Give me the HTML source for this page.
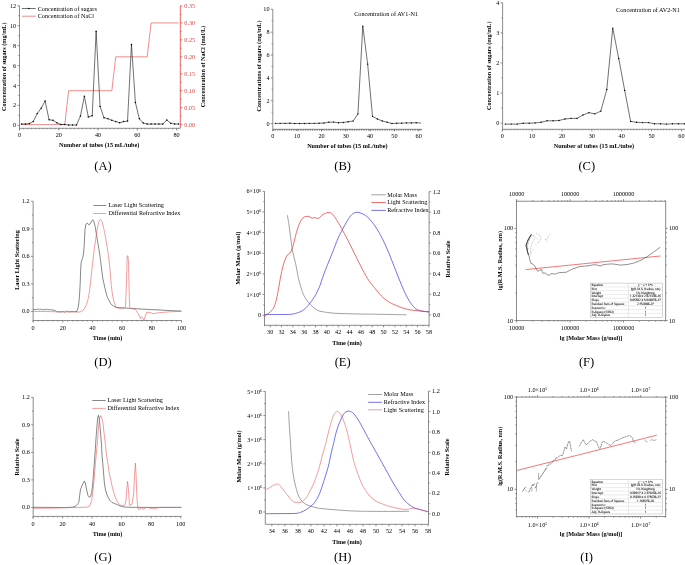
<!DOCTYPE html>
<html><head><meta charset="utf-8"><style>
html,body{margin:0;padding:0;background:#fff;}
svg{display:block;font-family:"Liberation Serif", serif;filter:blur(0.25px);}
</style></head><body>
<svg width="685" height="565" viewBox="0 0 685 565">
<rect width="685" height="565" fill="#fff"/>
<line x1="19.5" y1="5.7" x2="19.5" y2="128.3" stroke="#777777" stroke-width="0.85"/>
<line x1="19.5" y1="125.3" x2="17.5" y2="125.3" stroke="#777777" stroke-width="0.85"/>
<text x="16.2" y="127.35" text-anchor="end" font-size="6.2" fill="#000" >0</text>
<line x1="19.5" y1="105.38" x2="17.5" y2="105.38" stroke="#777777" stroke-width="0.85"/>
<text x="16.2" y="107.43" text-anchor="end" font-size="6.2" fill="#000" >2</text>
<line x1="19.5" y1="85.46" x2="17.5" y2="85.46" stroke="#777777" stroke-width="0.85"/>
<text x="16.2" y="87.51" text-anchor="end" font-size="6.2" fill="#000" >4</text>
<line x1="19.5" y1="65.54" x2="17.5" y2="65.54" stroke="#777777" stroke-width="0.85"/>
<text x="16.2" y="67.59" text-anchor="end" font-size="6.2" fill="#000" >6</text>
<line x1="19.5" y1="45.62" x2="17.5" y2="45.62" stroke="#777777" stroke-width="0.85"/>
<text x="16.2" y="47.67" text-anchor="end" font-size="6.2" fill="#000" >8</text>
<line x1="19.5" y1="25.7" x2="17.5" y2="25.7" stroke="#777777" stroke-width="0.85"/>
<text x="16.2" y="27.75" text-anchor="end" font-size="6.2" fill="#000" >10</text>
<line x1="19.5" y1="5.78" x2="17.5" y2="5.78" stroke="#777777" stroke-width="0.85"/>
<text x="16.2" y="7.83" text-anchor="end" font-size="6.2" fill="#000" >12</text>
<line x1="19.5" y1="115.34" x2="18.3" y2="115.34" stroke="#777777" stroke-width="0.85"/>
<line x1="19.5" y1="95.42" x2="18.3" y2="95.42" stroke="#777777" stroke-width="0.85"/>
<line x1="19.5" y1="75.5" x2="18.3" y2="75.5" stroke="#777777" stroke-width="0.85"/>
<line x1="19.5" y1="55.58" x2="18.3" y2="55.58" stroke="#777777" stroke-width="0.85"/>
<line x1="19.5" y1="35.66" x2="18.3" y2="35.66" stroke="#777777" stroke-width="0.85"/>
<line x1="19.5" y1="15.74" x2="18.3" y2="15.74" stroke="#777777" stroke-width="0.85"/>
<line x1="19.5" y1="128.3" x2="19.5" y2="130.3" stroke="#777777" stroke-width="0.85"/>
<line x1="180.3" y1="5.7" x2="180.3" y2="128.3" stroke="#e04848" stroke-width="0.85"/>
<line x1="180.3" y1="124.6" x2="182.3" y2="124.6" stroke="#e04848" stroke-width="0.85"/>
<text x="184.3" y="126.65" text-anchor="start" font-size="6.2" fill="#e04848" >0.00</text>
<line x1="180.3" y1="107.66" x2="182.3" y2="107.66" stroke="#e04848" stroke-width="0.85"/>
<text x="184.3" y="109.7" text-anchor="start" font-size="6.2" fill="#e04848" >0.05</text>
<line x1="180.3" y1="90.71" x2="182.3" y2="90.71" stroke="#e04848" stroke-width="0.85"/>
<text x="184.3" y="92.76" text-anchor="start" font-size="6.2" fill="#e04848" >0.10</text>
<line x1="180.3" y1="73.77" x2="182.3" y2="73.77" stroke="#e04848" stroke-width="0.85"/>
<text x="184.3" y="75.81" text-anchor="start" font-size="6.2" fill="#e04848" >0.15</text>
<line x1="180.3" y1="56.82" x2="182.3" y2="56.82" stroke="#e04848" stroke-width="0.85"/>
<text x="184.3" y="58.87" text-anchor="start" font-size="6.2" fill="#e04848" >0.20</text>
<line x1="180.3" y1="39.88" x2="182.3" y2="39.88" stroke="#e04848" stroke-width="0.85"/>
<text x="184.3" y="41.92" text-anchor="start" font-size="6.2" fill="#e04848" >0.25</text>
<line x1="180.3" y1="22.93" x2="182.3" y2="22.93" stroke="#e04848" stroke-width="0.85"/>
<text x="184.3" y="24.98" text-anchor="start" font-size="6.2" fill="#e04848" >0.30</text>
<line x1="180.3" y1="5.99" x2="182.3" y2="5.99" stroke="#e04848" stroke-width="0.85"/>
<text x="184.3" y="8.03" text-anchor="start" font-size="6.2" fill="#e04848" >0.35</text>
<line x1="180.3" y1="116.13" x2="181.5" y2="116.13" stroke="#e04848" stroke-width="0.85"/>
<line x1="180.3" y1="99.18" x2="181.5" y2="99.18" stroke="#e04848" stroke-width="0.85"/>
<line x1="180.3" y1="82.24" x2="181.5" y2="82.24" stroke="#e04848" stroke-width="0.85"/>
<line x1="180.3" y1="65.29" x2="181.5" y2="65.29" stroke="#e04848" stroke-width="0.85"/>
<line x1="180.3" y1="48.35" x2="181.5" y2="48.35" stroke="#e04848" stroke-width="0.85"/>
<line x1="180.3" y1="31.4" x2="181.5" y2="31.4" stroke="#e04848" stroke-width="0.85"/>
<line x1="180.3" y1="14.46" x2="181.5" y2="14.46" stroke="#e04848" stroke-width="0.85"/>
<line x1="19.5" y1="128.3" x2="180.3" y2="128.3" stroke="#777777" stroke-width="0.85"/>
<line x1="19.6" y1="128.3" x2="19.6" y2="130.3" stroke="#777777" stroke-width="0.85"/>
<text x="19.6" y="137.35" text-anchor="middle" font-size="6.2" fill="#000" >0</text>
<line x1="58.85" y1="128.3" x2="58.85" y2="130.3" stroke="#777777" stroke-width="0.85"/>
<text x="58.85" y="137.35" text-anchor="middle" font-size="6.2" fill="#000" >20</text>
<line x1="98.1" y1="128.3" x2="98.1" y2="130.3" stroke="#777777" stroke-width="0.85"/>
<text x="98.1" y="137.35" text-anchor="middle" font-size="6.2" fill="#000" >40</text>
<line x1="137.35" y1="128.3" x2="137.35" y2="130.3" stroke="#777777" stroke-width="0.85"/>
<text x="137.35" y="137.35" text-anchor="middle" font-size="6.2" fill="#000" >60</text>
<line x1="176.6" y1="128.3" x2="176.6" y2="130.3" stroke="#777777" stroke-width="0.85"/>
<text x="176.6" y="137.35" text-anchor="middle" font-size="6.2" fill="#000" >80</text>
<line x1="23.53" y1="128.3" x2="23.53" y2="129.3" stroke="#777777" stroke-width="0.85"/>
<line x1="27.45" y1="128.3" x2="27.45" y2="129.3" stroke="#777777" stroke-width="0.85"/>
<line x1="31.38" y1="128.3" x2="31.38" y2="129.3" stroke="#777777" stroke-width="0.85"/>
<line x1="35.3" y1="128.3" x2="35.3" y2="129.3" stroke="#777777" stroke-width="0.85"/>
<line x1="39.23" y1="128.3" x2="39.23" y2="129.3" stroke="#777777" stroke-width="0.85"/>
<line x1="43.15" y1="128.3" x2="43.15" y2="129.3" stroke="#777777" stroke-width="0.85"/>
<line x1="47.08" y1="128.3" x2="47.08" y2="129.3" stroke="#777777" stroke-width="0.85"/>
<line x1="51" y1="128.3" x2="51" y2="129.3" stroke="#777777" stroke-width="0.85"/>
<line x1="54.92" y1="128.3" x2="54.92" y2="129.3" stroke="#777777" stroke-width="0.85"/>
<line x1="58.85" y1="128.3" x2="58.85" y2="129.3" stroke="#777777" stroke-width="0.85"/>
<line x1="62.77" y1="128.3" x2="62.77" y2="129.3" stroke="#777777" stroke-width="0.85"/>
<line x1="66.7" y1="128.3" x2="66.7" y2="129.3" stroke="#777777" stroke-width="0.85"/>
<line x1="70.62" y1="128.3" x2="70.62" y2="129.3" stroke="#777777" stroke-width="0.85"/>
<line x1="74.55" y1="128.3" x2="74.55" y2="129.3" stroke="#777777" stroke-width="0.85"/>
<line x1="78.47" y1="128.3" x2="78.47" y2="129.3" stroke="#777777" stroke-width="0.85"/>
<line x1="82.4" y1="128.3" x2="82.4" y2="129.3" stroke="#777777" stroke-width="0.85"/>
<line x1="86.32" y1="128.3" x2="86.32" y2="129.3" stroke="#777777" stroke-width="0.85"/>
<line x1="90.25" y1="128.3" x2="90.25" y2="129.3" stroke="#777777" stroke-width="0.85"/>
<line x1="94.18" y1="128.3" x2="94.18" y2="129.3" stroke="#777777" stroke-width="0.85"/>
<line x1="98.1" y1="128.3" x2="98.1" y2="129.3" stroke="#777777" stroke-width="0.85"/>
<line x1="102.03" y1="128.3" x2="102.03" y2="129.3" stroke="#777777" stroke-width="0.85"/>
<line x1="105.95" y1="128.3" x2="105.95" y2="129.3" stroke="#777777" stroke-width="0.85"/>
<line x1="109.88" y1="128.3" x2="109.88" y2="129.3" stroke="#777777" stroke-width="0.85"/>
<line x1="113.8" y1="128.3" x2="113.8" y2="129.3" stroke="#777777" stroke-width="0.85"/>
<line x1="117.72" y1="128.3" x2="117.72" y2="129.3" stroke="#777777" stroke-width="0.85"/>
<line x1="121.65" y1="128.3" x2="121.65" y2="129.3" stroke="#777777" stroke-width="0.85"/>
<line x1="125.57" y1="128.3" x2="125.57" y2="129.3" stroke="#777777" stroke-width="0.85"/>
<line x1="129.5" y1="128.3" x2="129.5" y2="129.3" stroke="#777777" stroke-width="0.85"/>
<line x1="133.42" y1="128.3" x2="133.42" y2="129.3" stroke="#777777" stroke-width="0.85"/>
<line x1="137.35" y1="128.3" x2="137.35" y2="129.3" stroke="#777777" stroke-width="0.85"/>
<line x1="141.28" y1="128.3" x2="141.28" y2="129.3" stroke="#777777" stroke-width="0.85"/>
<line x1="145.2" y1="128.3" x2="145.2" y2="129.3" stroke="#777777" stroke-width="0.85"/>
<line x1="149.12" y1="128.3" x2="149.12" y2="129.3" stroke="#777777" stroke-width="0.85"/>
<line x1="153.05" y1="128.3" x2="153.05" y2="129.3" stroke="#777777" stroke-width="0.85"/>
<line x1="156.97" y1="128.3" x2="156.97" y2="129.3" stroke="#777777" stroke-width="0.85"/>
<line x1="160.9" y1="128.3" x2="160.9" y2="129.3" stroke="#777777" stroke-width="0.85"/>
<line x1="164.82" y1="128.3" x2="164.82" y2="129.3" stroke="#777777" stroke-width="0.85"/>
<line x1="168.75" y1="128.3" x2="168.75" y2="129.3" stroke="#777777" stroke-width="0.85"/>
<line x1="172.67" y1="128.3" x2="172.67" y2="129.3" stroke="#777777" stroke-width="0.85"/>
<line x1="176.6" y1="128.3" x2="176.6" y2="129.3" stroke="#777777" stroke-width="0.85"/>
<polyline points="21.56,124.6 64.74,124.6 68.66,90.71 111.84,90.71 115.76,56.82 147.16,56.82 151.09,22.93 178.56,22.93" fill="none" stroke="#ea5a5a" stroke-width="0.7" stroke-linejoin="round" />
<polyline points="21.56,124.01 25.49,124.01 29.41,123.61 33.34,121.42 37.26,113.55 41.19,108.17 45.11,100.9 49.04,119.72 52.96,120.32 56.89,122.81 60.81,124.5 64.74,124.5 68.66,125 72.59,125 76.51,125 80.44,116.04 84.36,96.22 88.29,116.93 92.21,115.74 96.14,31.18 100.06,106.48 103.99,117.73 107.91,118.63 111.84,120.32 115.76,121.61 119.69,122.81 123.61,121.61 127.54,121.12 131.46,44.42 135.39,102.39 139.31,118.63 143.24,123.11 147.16,124.01 151.09,124.1 155.01,124.01 158.94,124.01 162.86,124.1 166.79,119.92 170.71,123.31 174.64,124.01 178.56,124.01" fill="none" stroke="#111" stroke-width="0.6" stroke-linejoin="round" />
<circle cx="21.56" cy="124.01" r="0.75" fill="#000"/>
<circle cx="25.49" cy="124.01" r="0.75" fill="#000"/>
<circle cx="29.41" cy="123.61" r="0.75" fill="#000"/>
<circle cx="33.34" cy="121.42" r="0.75" fill="#000"/>
<circle cx="37.26" cy="113.55" r="0.75" fill="#000"/>
<circle cx="41.19" cy="108.17" r="0.75" fill="#000"/>
<circle cx="45.11" cy="100.9" r="0.75" fill="#000"/>
<circle cx="49.04" cy="119.72" r="0.75" fill="#000"/>
<circle cx="52.96" cy="120.32" r="0.75" fill="#000"/>
<circle cx="56.89" cy="122.81" r="0.75" fill="#000"/>
<circle cx="60.81" cy="124.5" r="0.75" fill="#000"/>
<circle cx="64.74" cy="124.5" r="0.75" fill="#000"/>
<circle cx="68.66" cy="125" r="0.75" fill="#000"/>
<circle cx="72.59" cy="125" r="0.75" fill="#000"/>
<circle cx="76.51" cy="125" r="0.75" fill="#000"/>
<circle cx="80.44" cy="116.04" r="0.75" fill="#000"/>
<circle cx="84.36" cy="96.22" r="0.75" fill="#000"/>
<circle cx="88.29" cy="116.93" r="0.75" fill="#000"/>
<circle cx="92.21" cy="115.74" r="0.75" fill="#000"/>
<circle cx="96.14" cy="31.18" r="0.75" fill="#000"/>
<circle cx="100.06" cy="106.48" r="0.75" fill="#000"/>
<circle cx="103.99" cy="117.73" r="0.75" fill="#000"/>
<circle cx="107.91" cy="118.63" r="0.75" fill="#000"/>
<circle cx="111.84" cy="120.32" r="0.75" fill="#000"/>
<circle cx="115.76" cy="121.61" r="0.75" fill="#000"/>
<circle cx="119.69" cy="122.81" r="0.75" fill="#000"/>
<circle cx="123.61" cy="121.61" r="0.75" fill="#000"/>
<circle cx="127.54" cy="121.12" r="0.75" fill="#000"/>
<circle cx="131.46" cy="44.42" r="0.75" fill="#000"/>
<circle cx="135.39" cy="102.39" r="0.75" fill="#000"/>
<circle cx="139.31" cy="118.63" r="0.75" fill="#000"/>
<circle cx="143.24" cy="123.11" r="0.75" fill="#000"/>
<circle cx="147.16" cy="124.01" r="0.75" fill="#000"/>
<circle cx="151.09" cy="124.1" r="0.75" fill="#000"/>
<circle cx="155.01" cy="124.01" r="0.75" fill="#000"/>
<circle cx="158.94" cy="124.01" r="0.75" fill="#000"/>
<circle cx="162.86" cy="124.1" r="0.75" fill="#000"/>
<circle cx="166.79" cy="119.92" r="0.75" fill="#000"/>
<circle cx="170.71" cy="123.31" r="0.75" fill="#000"/>
<circle cx="174.64" cy="124.01" r="0.75" fill="#000"/>
<circle cx="178.56" cy="124.01" r="0.75" fill="#000"/>
<line x1="21.9" y1="8.5" x2="35.7" y2="8.5" stroke="#111" stroke-width="0.6"/>
<circle cx="28.9" cy="8.5" r="0.75" fill="#000"/>
<line x1="21.9" y1="16.2" x2="35.7" y2="16.2" stroke="#ea5a5a" stroke-width="0.7"/>
<text x="37.7" y="10.66" text-anchor="start" font-size="6.2" fill="#000" >Concentration of sugars</text>
<text x="37.7" y="18.36" text-anchor="start" font-size="6.2" fill="#000" >Concentration of NaCl</text>
<text x="99.2" y="147.36" text-anchor="middle" font-size="6.2" font-weight="bold" fill="#000" >Number of tubes (15 mL/tube)</text>
<text transform="translate(5.55,66.7) rotate(-90)" text-anchor="middle" font-size="6.2" font-weight="bold" fill="#000" >Concentration of sugars (mg/mL)</text>
<text transform="translate(205.25,66.5) rotate(-90)" text-anchor="middle" font-size="6.2" font-weight="bold" fill="#000" >Concentration of NaCl (mol/L)</text>
<text x="103" y="169.86" text-anchor="middle" font-size="12.6" fill="#000" >(A)</text>
<line x1="272.8" y1="9.2" x2="272.8" y2="129.3" stroke="#777777" stroke-width="0.85"/>
<line x1="272.8" y1="123.6" x2="270.8" y2="123.6" stroke="#777777" stroke-width="0.85"/>
<text x="269.5" y="125.65" text-anchor="end" font-size="6.2" fill="#000" >0</text>
<line x1="272.8" y1="100.74" x2="270.8" y2="100.74" stroke="#777777" stroke-width="0.85"/>
<text x="269.5" y="102.79" text-anchor="end" font-size="6.2" fill="#000" >2</text>
<line x1="272.8" y1="77.88" x2="270.8" y2="77.88" stroke="#777777" stroke-width="0.85"/>
<text x="269.5" y="79.93" text-anchor="end" font-size="6.2" fill="#000" >4</text>
<line x1="272.8" y1="55.02" x2="270.8" y2="55.02" stroke="#777777" stroke-width="0.85"/>
<text x="269.5" y="57.07" text-anchor="end" font-size="6.2" fill="#000" >6</text>
<line x1="272.8" y1="32.16" x2="270.8" y2="32.16" stroke="#777777" stroke-width="0.85"/>
<text x="269.5" y="34.21" text-anchor="end" font-size="6.2" fill="#000" >8</text>
<line x1="272.8" y1="9.3" x2="270.8" y2="9.3" stroke="#777777" stroke-width="0.85"/>
<text x="269.5" y="11.35" text-anchor="end" font-size="6.2" fill="#000" >10</text>
<line x1="272.8" y1="112.17" x2="271.6" y2="112.17" stroke="#777777" stroke-width="0.85"/>
<line x1="272.8" y1="89.31" x2="271.6" y2="89.31" stroke="#777777" stroke-width="0.85"/>
<line x1="272.8" y1="66.45" x2="271.6" y2="66.45" stroke="#777777" stroke-width="0.85"/>
<line x1="272.8" y1="43.59" x2="271.6" y2="43.59" stroke="#777777" stroke-width="0.85"/>
<line x1="272.8" y1="20.73" x2="271.6" y2="20.73" stroke="#777777" stroke-width="0.85"/>
<line x1="272.8" y1="129.3" x2="272.8" y2="131" stroke="#777777" stroke-width="0.85"/>
<line x1="272.8" y1="129.3" x2="422.1" y2="129.3" stroke="#777777" stroke-width="0.85"/>
<line x1="272.9" y1="129.3" x2="272.9" y2="131.3" stroke="#777777" stroke-width="0.85"/>
<text x="272.9" y="137.85" text-anchor="middle" font-size="6.2" fill="#000" >0</text>
<line x1="297.2" y1="129.3" x2="297.2" y2="131.3" stroke="#777777" stroke-width="0.85"/>
<text x="297.2" y="137.85" text-anchor="middle" font-size="6.2" fill="#000" >10</text>
<line x1="321.5" y1="129.3" x2="321.5" y2="131.3" stroke="#777777" stroke-width="0.85"/>
<text x="321.5" y="137.85" text-anchor="middle" font-size="6.2" fill="#000" >20</text>
<line x1="345.8" y1="129.3" x2="345.8" y2="131.3" stroke="#777777" stroke-width="0.85"/>
<text x="345.8" y="137.85" text-anchor="middle" font-size="6.2" fill="#000" >30</text>
<line x1="370.1" y1="129.3" x2="370.1" y2="131.3" stroke="#777777" stroke-width="0.85"/>
<text x="370.1" y="137.85" text-anchor="middle" font-size="6.2" fill="#000" >40</text>
<line x1="394.4" y1="129.3" x2="394.4" y2="131.3" stroke="#777777" stroke-width="0.85"/>
<text x="394.4" y="137.85" text-anchor="middle" font-size="6.2" fill="#000" >50</text>
<line x1="418.7" y1="129.3" x2="418.7" y2="131.3" stroke="#777777" stroke-width="0.85"/>
<text x="418.7" y="137.85" text-anchor="middle" font-size="6.2" fill="#000" >60</text>
<line x1="273.6" y1="130.0" x2="422" y2="130.0" stroke="#222" stroke-width="0.9" stroke-dasharray="0.75 1.0"/>
<polyline points="275.33,123.37 280.19,123.37 285.05,123.37 289.91,123.26 294.77,123.49 299.63,123.49 304.49,123.49 309.35,123.37 314.21,123.37 319.07,123.26 323.93,123.03 328.79,122.23 333.65,122.11 338.51,122.69 343.37,122.46 348.23,121.77 353.09,121.09 357.95,113.88 362.81,26.1 367.67,64.16 372.53,116.4 377.39,119.03 382.25,120.97 387.11,122.23 391.97,123.49 396.83,123.26 401.69,123.14 406.55,122.91 411.41,122.91 416.27,122.69 421.13,123.14" fill="none" stroke="#111" stroke-width="0.6" stroke-linejoin="round" />
<circle cx="275.33" cy="123.37" r="0.7" fill="#000"/>
<circle cx="280.19" cy="123.37" r="0.7" fill="#000"/>
<circle cx="285.05" cy="123.37" r="0.7" fill="#000"/>
<circle cx="289.91" cy="123.26" r="0.7" fill="#000"/>
<circle cx="294.77" cy="123.49" r="0.7" fill="#000"/>
<circle cx="299.63" cy="123.49" r="0.7" fill="#000"/>
<circle cx="304.49" cy="123.49" r="0.7" fill="#000"/>
<circle cx="309.35" cy="123.37" r="0.7" fill="#000"/>
<circle cx="314.21" cy="123.37" r="0.7" fill="#000"/>
<circle cx="319.07" cy="123.26" r="0.7" fill="#000"/>
<circle cx="323.93" cy="123.03" r="0.7" fill="#000"/>
<circle cx="328.79" cy="122.23" r="0.7" fill="#000"/>
<circle cx="333.65" cy="122.11" r="0.7" fill="#000"/>
<circle cx="338.51" cy="122.69" r="0.7" fill="#000"/>
<circle cx="343.37" cy="122.46" r="0.7" fill="#000"/>
<circle cx="348.23" cy="121.77" r="0.7" fill="#000"/>
<circle cx="353.09" cy="121.09" r="0.7" fill="#000"/>
<circle cx="357.95" cy="113.88" r="0.7" fill="#000"/>
<circle cx="362.81" cy="26.1" r="0.7" fill="#000"/>
<circle cx="367.67" cy="64.16" r="0.7" fill="#000"/>
<circle cx="372.53" cy="116.4" r="0.7" fill="#000"/>
<circle cx="377.39" cy="119.03" r="0.7" fill="#000"/>
<circle cx="382.25" cy="120.97" r="0.7" fill="#000"/>
<circle cx="387.11" cy="122.23" r="0.7" fill="#000"/>
<circle cx="391.97" cy="123.49" r="0.7" fill="#000"/>
<circle cx="396.83" cy="123.26" r="0.7" fill="#000"/>
<circle cx="401.69" cy="123.14" r="0.7" fill="#000"/>
<circle cx="406.55" cy="122.91" r="0.7" fill="#000"/>
<circle cx="411.41" cy="122.91" r="0.7" fill="#000"/>
<circle cx="416.27" cy="122.69" r="0.7" fill="#000"/>
<text x="386.1" y="15.66" text-anchor="middle" font-size="6.2" fill="#000" >Concentration of AV1-N1</text>
<text x="347.3" y="148.16" text-anchor="middle" font-size="6.2" font-weight="bold" fill="#000" >Number of tubes (15 mL/tube)</text>
<text transform="translate(260.55,66) rotate(-90)" text-anchor="middle" font-size="6.2" font-weight="bold" fill="#000" >Concentrations of sugars (mg/mL)</text>
<text x="342.6" y="169.86" text-anchor="middle" font-size="12.6" fill="#000" >(B)</text>
<line x1="502.6" y1="2.6" x2="502.6" y2="129.3" stroke="#777777" stroke-width="0.85"/>
<line x1="502.6" y1="123.2" x2="500.6" y2="123.2" stroke="#777777" stroke-width="0.85"/>
<text x="499.3" y="125.25" text-anchor="end" font-size="6.2" fill="#000" >0</text>
<line x1="502.6" y1="93.1" x2="500.6" y2="93.1" stroke="#777777" stroke-width="0.85"/>
<text x="499.3" y="95.15" text-anchor="end" font-size="6.2" fill="#000" >1</text>
<line x1="502.6" y1="63" x2="500.6" y2="63" stroke="#777777" stroke-width="0.85"/>
<text x="499.3" y="65.05" text-anchor="end" font-size="6.2" fill="#000" >2</text>
<line x1="502.6" y1="32.9" x2="500.6" y2="32.9" stroke="#777777" stroke-width="0.85"/>
<text x="499.3" y="34.95" text-anchor="end" font-size="6.2" fill="#000" >3</text>
<line x1="502.6" y1="2.8" x2="500.6" y2="2.8" stroke="#777777" stroke-width="0.85"/>
<text x="499.3" y="4.85" text-anchor="end" font-size="6.2" fill="#000" >4</text>
<line x1="502.6" y1="108.15" x2="501.4" y2="108.15" stroke="#777777" stroke-width="0.85"/>
<line x1="502.6" y1="78.05" x2="501.4" y2="78.05" stroke="#777777" stroke-width="0.85"/>
<line x1="502.6" y1="47.95" x2="501.4" y2="47.95" stroke="#777777" stroke-width="0.85"/>
<line x1="502.6" y1="17.85" x2="501.4" y2="17.85" stroke="#777777" stroke-width="0.85"/>
<line x1="502.6" y1="129.3" x2="502.6" y2="131" stroke="#777777" stroke-width="0.85"/>
<line x1="502.6" y1="129.3" x2="685" y2="129.3" stroke="#777777" stroke-width="0.85"/>
<line x1="502.3" y1="129.3" x2="502.3" y2="131.3" stroke="#777777" stroke-width="0.85"/>
<text x="502.3" y="137.65" text-anchor="middle" font-size="6.2" fill="#000" >0</text>
<line x1="532.15" y1="129.3" x2="532.15" y2="131.3" stroke="#777777" stroke-width="0.85"/>
<text x="532.15" y="137.65" text-anchor="middle" font-size="6.2" fill="#000" >10</text>
<line x1="562" y1="129.3" x2="562" y2="131.3" stroke="#777777" stroke-width="0.85"/>
<text x="562" y="137.65" text-anchor="middle" font-size="6.2" fill="#000" >20</text>
<line x1="591.85" y1="129.3" x2="591.85" y2="131.3" stroke="#777777" stroke-width="0.85"/>
<text x="591.85" y="137.65" text-anchor="middle" font-size="6.2" fill="#000" >30</text>
<line x1="621.7" y1="129.3" x2="621.7" y2="131.3" stroke="#777777" stroke-width="0.85"/>
<text x="621.7" y="137.65" text-anchor="middle" font-size="6.2" fill="#000" >40</text>
<line x1="651.55" y1="129.3" x2="651.55" y2="131.3" stroke="#777777" stroke-width="0.85"/>
<text x="651.55" y="137.65" text-anchor="middle" font-size="6.2" fill="#000" >50</text>
<line x1="681.4" y1="129.3" x2="681.4" y2="131.3" stroke="#777777" stroke-width="0.85"/>
<text x="681.4" y="137.65" text-anchor="middle" font-size="6.2" fill="#000" >60</text>
<line x1="505.29" y1="129.3" x2="505.29" y2="130.3" stroke="#777777" stroke-width="0.85"/>
<line x1="508.27" y1="129.3" x2="508.27" y2="130.3" stroke="#777777" stroke-width="0.85"/>
<line x1="511.25" y1="129.3" x2="511.25" y2="130.3" stroke="#777777" stroke-width="0.85"/>
<line x1="514.24" y1="129.3" x2="514.24" y2="130.3" stroke="#777777" stroke-width="0.85"/>
<line x1="517.23" y1="129.3" x2="517.23" y2="130.3" stroke="#777777" stroke-width="0.85"/>
<line x1="520.21" y1="129.3" x2="520.21" y2="130.3" stroke="#777777" stroke-width="0.85"/>
<line x1="523.2" y1="129.3" x2="523.2" y2="130.3" stroke="#777777" stroke-width="0.85"/>
<line x1="526.18" y1="129.3" x2="526.18" y2="130.3" stroke="#777777" stroke-width="0.85"/>
<line x1="529.16" y1="129.3" x2="529.16" y2="130.3" stroke="#777777" stroke-width="0.85"/>
<line x1="535.13" y1="129.3" x2="535.13" y2="130.3" stroke="#777777" stroke-width="0.85"/>
<line x1="538.12" y1="129.3" x2="538.12" y2="130.3" stroke="#777777" stroke-width="0.85"/>
<line x1="541.11" y1="129.3" x2="541.11" y2="130.3" stroke="#777777" stroke-width="0.85"/>
<line x1="544.09" y1="129.3" x2="544.09" y2="130.3" stroke="#777777" stroke-width="0.85"/>
<line x1="547.08" y1="129.3" x2="547.08" y2="130.3" stroke="#777777" stroke-width="0.85"/>
<line x1="550.06" y1="129.3" x2="550.06" y2="130.3" stroke="#777777" stroke-width="0.85"/>
<line x1="553.04" y1="129.3" x2="553.04" y2="130.3" stroke="#777777" stroke-width="0.85"/>
<line x1="556.03" y1="129.3" x2="556.03" y2="130.3" stroke="#777777" stroke-width="0.85"/>
<line x1="559.01" y1="129.3" x2="559.01" y2="130.3" stroke="#777777" stroke-width="0.85"/>
<line x1="564.99" y1="129.3" x2="564.99" y2="130.3" stroke="#777777" stroke-width="0.85"/>
<line x1="567.97" y1="129.3" x2="567.97" y2="130.3" stroke="#777777" stroke-width="0.85"/>
<line x1="570.96" y1="129.3" x2="570.96" y2="130.3" stroke="#777777" stroke-width="0.85"/>
<line x1="573.94" y1="129.3" x2="573.94" y2="130.3" stroke="#777777" stroke-width="0.85"/>
<line x1="576.92" y1="129.3" x2="576.92" y2="130.3" stroke="#777777" stroke-width="0.85"/>
<line x1="579.91" y1="129.3" x2="579.91" y2="130.3" stroke="#777777" stroke-width="0.85"/>
<line x1="582.89" y1="129.3" x2="582.89" y2="130.3" stroke="#777777" stroke-width="0.85"/>
<line x1="585.88" y1="129.3" x2="585.88" y2="130.3" stroke="#777777" stroke-width="0.85"/>
<line x1="588.87" y1="129.3" x2="588.87" y2="130.3" stroke="#777777" stroke-width="0.85"/>
<line x1="594.84" y1="129.3" x2="594.84" y2="130.3" stroke="#777777" stroke-width="0.85"/>
<line x1="597.82" y1="129.3" x2="597.82" y2="130.3" stroke="#777777" stroke-width="0.85"/>
<line x1="600.81" y1="129.3" x2="600.81" y2="130.3" stroke="#777777" stroke-width="0.85"/>
<line x1="603.79" y1="129.3" x2="603.79" y2="130.3" stroke="#777777" stroke-width="0.85"/>
<line x1="606.77" y1="129.3" x2="606.77" y2="130.3" stroke="#777777" stroke-width="0.85"/>
<line x1="609.76" y1="129.3" x2="609.76" y2="130.3" stroke="#777777" stroke-width="0.85"/>
<line x1="612.75" y1="129.3" x2="612.75" y2="130.3" stroke="#777777" stroke-width="0.85"/>
<line x1="615.73" y1="129.3" x2="615.73" y2="130.3" stroke="#777777" stroke-width="0.85"/>
<line x1="618.72" y1="129.3" x2="618.72" y2="130.3" stroke="#777777" stroke-width="0.85"/>
<line x1="624.68" y1="129.3" x2="624.68" y2="130.3" stroke="#777777" stroke-width="0.85"/>
<line x1="627.67" y1="129.3" x2="627.67" y2="130.3" stroke="#777777" stroke-width="0.85"/>
<line x1="630.65" y1="129.3" x2="630.65" y2="130.3" stroke="#777777" stroke-width="0.85"/>
<line x1="633.64" y1="129.3" x2="633.64" y2="130.3" stroke="#777777" stroke-width="0.85"/>
<line x1="636.62" y1="129.3" x2="636.62" y2="130.3" stroke="#777777" stroke-width="0.85"/>
<line x1="639.61" y1="129.3" x2="639.61" y2="130.3" stroke="#777777" stroke-width="0.85"/>
<line x1="642.6" y1="129.3" x2="642.6" y2="130.3" stroke="#777777" stroke-width="0.85"/>
<line x1="645.58" y1="129.3" x2="645.58" y2="130.3" stroke="#777777" stroke-width="0.85"/>
<line x1="648.57" y1="129.3" x2="648.57" y2="130.3" stroke="#777777" stroke-width="0.85"/>
<line x1="654.53" y1="129.3" x2="654.53" y2="130.3" stroke="#777777" stroke-width="0.85"/>
<line x1="657.52" y1="129.3" x2="657.52" y2="130.3" stroke="#777777" stroke-width="0.85"/>
<line x1="660.5" y1="129.3" x2="660.5" y2="130.3" stroke="#777777" stroke-width="0.85"/>
<line x1="663.49" y1="129.3" x2="663.49" y2="130.3" stroke="#777777" stroke-width="0.85"/>
<line x1="666.48" y1="129.3" x2="666.48" y2="130.3" stroke="#777777" stroke-width="0.85"/>
<line x1="669.46" y1="129.3" x2="669.46" y2="130.3" stroke="#777777" stroke-width="0.85"/>
<line x1="672.44" y1="129.3" x2="672.44" y2="130.3" stroke="#777777" stroke-width="0.85"/>
<line x1="675.43" y1="129.3" x2="675.43" y2="130.3" stroke="#777777" stroke-width="0.85"/>
<line x1="678.41" y1="129.3" x2="678.41" y2="130.3" stroke="#777777" stroke-width="0.85"/>
<polyline points="505.29,124.1 511.25,124.1 517.23,124.1 523.2,123.2 529.16,123.2 535.13,122.9 541.11,122.3 547.08,120.79 553.04,120.79 559.01,120.49 564.99,118.99 570.96,118.38 576.92,118.38 582.89,115.07 588.87,112.67 594.84,113.87 600.81,111.16 606.77,89.49 612.75,28.08 618.72,58.48 624.68,90.39 630.65,121.39 636.62,122.3 642.6,122.6 648.57,122.6 654.53,123.8 660.5,123.8 666.48,124.1 672.44,123.8 678.41,123.8 684.38,123.8" fill="none" stroke="#111" stroke-width="0.6" stroke-linejoin="round" />
<circle cx="505.29" cy="124.1" r="0.7" fill="#000"/>
<circle cx="511.25" cy="124.1" r="0.7" fill="#000"/>
<circle cx="517.23" cy="124.1" r="0.7" fill="#000"/>
<circle cx="523.2" cy="123.2" r="0.7" fill="#000"/>
<circle cx="529.16" cy="123.2" r="0.7" fill="#000"/>
<circle cx="535.13" cy="122.9" r="0.7" fill="#000"/>
<circle cx="541.11" cy="122.3" r="0.7" fill="#000"/>
<circle cx="547.08" cy="120.79" r="0.7" fill="#000"/>
<circle cx="553.04" cy="120.79" r="0.7" fill="#000"/>
<circle cx="559.01" cy="120.49" r="0.7" fill="#000"/>
<circle cx="564.99" cy="118.99" r="0.7" fill="#000"/>
<circle cx="570.96" cy="118.38" r="0.7" fill="#000"/>
<circle cx="576.92" cy="118.38" r="0.7" fill="#000"/>
<circle cx="582.89" cy="115.07" r="0.7" fill="#000"/>
<circle cx="588.87" cy="112.67" r="0.7" fill="#000"/>
<circle cx="594.84" cy="113.87" r="0.7" fill="#000"/>
<circle cx="600.81" cy="111.16" r="0.7" fill="#000"/>
<circle cx="606.77" cy="89.49" r="0.7" fill="#000"/>
<circle cx="612.75" cy="28.08" r="0.7" fill="#000"/>
<circle cx="618.72" cy="58.48" r="0.7" fill="#000"/>
<circle cx="624.68" cy="90.39" r="0.7" fill="#000"/>
<circle cx="630.65" cy="121.39" r="0.7" fill="#000"/>
<circle cx="636.62" cy="122.3" r="0.7" fill="#000"/>
<circle cx="642.6" cy="122.6" r="0.7" fill="#000"/>
<circle cx="648.57" cy="122.6" r="0.7" fill="#000"/>
<circle cx="654.53" cy="123.8" r="0.7" fill="#000"/>
<circle cx="660.5" cy="123.8" r="0.7" fill="#000"/>
<circle cx="666.48" cy="124.1" r="0.7" fill="#000"/>
<circle cx="672.44" cy="123.8" r="0.7" fill="#000"/>
<circle cx="678.41" cy="123.8" r="0.7" fill="#000"/>
<circle cx="684.38" cy="123.8" r="0.7" fill="#000"/>
<text x="648" y="11.66" text-anchor="middle" font-size="6.2" fill="#000" >Concentration of AV2-N1</text>
<text x="593.9" y="148.16" text-anchor="middle" font-size="6.2" font-weight="bold" fill="#000" >Number of tubes (15 mL/tube)</text>
<text transform="translate(491.25,65.7) rotate(-90)" text-anchor="middle" font-size="6.2" font-weight="bold" fill="#000" >Concentration of sugars (mg/mL)</text>
<text x="586.8" y="169.86" text-anchor="middle" font-size="12.6" fill="#000" >(C)</text>
<line x1="33.1" y1="201.2" x2="33.1" y2="320.5" stroke="#777777" stroke-width="0.85"/>
<line x1="33.1" y1="311.4" x2="31.1" y2="311.4" stroke="#777777" stroke-width="0.85"/>
<text x="29.7" y="313.45" text-anchor="end" font-size="6.2" fill="#000" >0.0</text>
<line x1="33.1" y1="283.86" x2="31.1" y2="283.86" stroke="#777777" stroke-width="0.85"/>
<text x="29.7" y="285.91" text-anchor="end" font-size="6.2" fill="#000" >0.3</text>
<line x1="33.1" y1="256.32" x2="31.1" y2="256.32" stroke="#777777" stroke-width="0.85"/>
<text x="29.7" y="258.37" text-anchor="end" font-size="6.2" fill="#000" >0.6</text>
<line x1="33.1" y1="228.78" x2="31.1" y2="228.78" stroke="#777777" stroke-width="0.85"/>
<text x="29.7" y="230.83" text-anchor="end" font-size="6.2" fill="#000" >0.9</text>
<line x1="33.1" y1="201.24" x2="31.1" y2="201.24" stroke="#777777" stroke-width="0.85"/>
<text x="29.7" y="203.29" text-anchor="end" font-size="6.2" fill="#000" >1.2</text>
<line x1="33.1" y1="297.63" x2="31.9" y2="297.63" stroke="#777777" stroke-width="0.85"/>
<line x1="33.1" y1="270.09" x2="31.9" y2="270.09" stroke="#777777" stroke-width="0.85"/>
<line x1="33.1" y1="242.55" x2="31.9" y2="242.55" stroke="#777777" stroke-width="0.85"/>
<line x1="33.1" y1="215.01" x2="31.9" y2="215.01" stroke="#777777" stroke-width="0.85"/>
<line x1="33.1" y1="320.5" x2="33.1" y2="322" stroke="#777777" stroke-width="0.85"/>
<line x1="33.1" y1="320.5" x2="181.5" y2="320.5" stroke="#777777" stroke-width="0.85"/>
<line x1="33.1" y1="320.5" x2="33.1" y2="322.5" stroke="#777777" stroke-width="0.85"/>
<text x="33.1" y="329.65" text-anchor="middle" font-size="6.2" fill="#000" >0</text>
<line x1="62.78" y1="320.5" x2="62.78" y2="322.5" stroke="#777777" stroke-width="0.85"/>
<text x="62.78" y="329.65" text-anchor="middle" font-size="6.2" fill="#000" >20</text>
<line x1="92.46" y1="320.5" x2="92.46" y2="322.5" stroke="#777777" stroke-width="0.85"/>
<text x="92.46" y="329.65" text-anchor="middle" font-size="6.2" fill="#000" >40</text>
<line x1="122.14" y1="320.5" x2="122.14" y2="322.5" stroke="#777777" stroke-width="0.85"/>
<text x="122.14" y="329.65" text-anchor="middle" font-size="6.2" fill="#000" >60</text>
<line x1="151.82" y1="320.5" x2="151.82" y2="322.5" stroke="#777777" stroke-width="0.85"/>
<text x="151.82" y="329.65" text-anchor="middle" font-size="6.2" fill="#000" >80</text>
<line x1="181.5" y1="320.5" x2="181.5" y2="322.5" stroke="#777777" stroke-width="0.85"/>
<text x="181.5" y="329.65" text-anchor="middle" font-size="6.2" fill="#000" >100</text>
<line x1="38.05" y1="320.5" x2="38.05" y2="321.5" stroke="#777777" stroke-width="0.85"/>
<line x1="42.99" y1="320.5" x2="42.99" y2="321.5" stroke="#777777" stroke-width="0.85"/>
<line x1="47.94" y1="320.5" x2="47.94" y2="321.5" stroke="#777777" stroke-width="0.85"/>
<line x1="52.89" y1="320.5" x2="52.89" y2="321.5" stroke="#777777" stroke-width="0.85"/>
<line x1="57.83" y1="320.5" x2="57.83" y2="321.5" stroke="#777777" stroke-width="0.85"/>
<line x1="67.73" y1="320.5" x2="67.73" y2="321.5" stroke="#777777" stroke-width="0.85"/>
<line x1="72.67" y1="320.5" x2="72.67" y2="321.5" stroke="#777777" stroke-width="0.85"/>
<line x1="77.62" y1="320.5" x2="77.62" y2="321.5" stroke="#777777" stroke-width="0.85"/>
<line x1="82.57" y1="320.5" x2="82.57" y2="321.5" stroke="#777777" stroke-width="0.85"/>
<line x1="87.51" y1="320.5" x2="87.51" y2="321.5" stroke="#777777" stroke-width="0.85"/>
<line x1="97.41" y1="320.5" x2="97.41" y2="321.5" stroke="#777777" stroke-width="0.85"/>
<line x1="102.35" y1="320.5" x2="102.35" y2="321.5" stroke="#777777" stroke-width="0.85"/>
<line x1="107.3" y1="320.5" x2="107.3" y2="321.5" stroke="#777777" stroke-width="0.85"/>
<line x1="112.25" y1="320.5" x2="112.25" y2="321.5" stroke="#777777" stroke-width="0.85"/>
<line x1="117.19" y1="320.5" x2="117.19" y2="321.5" stroke="#777777" stroke-width="0.85"/>
<line x1="127.09" y1="320.5" x2="127.09" y2="321.5" stroke="#777777" stroke-width="0.85"/>
<line x1="132.03" y1="320.5" x2="132.03" y2="321.5" stroke="#777777" stroke-width="0.85"/>
<line x1="136.98" y1="320.5" x2="136.98" y2="321.5" stroke="#777777" stroke-width="0.85"/>
<line x1="141.93" y1="320.5" x2="141.93" y2="321.5" stroke="#777777" stroke-width="0.85"/>
<line x1="146.87" y1="320.5" x2="146.87" y2="321.5" stroke="#777777" stroke-width="0.85"/>
<line x1="156.77" y1="320.5" x2="156.77" y2="321.5" stroke="#777777" stroke-width="0.85"/>
<line x1="161.71" y1="320.5" x2="161.71" y2="321.5" stroke="#777777" stroke-width="0.85"/>
<line x1="166.66" y1="320.5" x2="166.66" y2="321.5" stroke="#777777" stroke-width="0.85"/>
<line x1="171.61" y1="320.5" x2="171.61" y2="321.5" stroke="#777777" stroke-width="0.85"/>
<line x1="176.55" y1="320.5" x2="176.55" y2="321.5" stroke="#777777" stroke-width="0.85"/>
<polyline points="33.2,309.26 34.1,309.54 35,309.38 35.9,309.59 36.8,309.61 37.7,309.11 38.6,309.06 39.5,309.8 40.4,309.28 41.3,309.26 42.2,309.95 43.1,309.47 44,309.8 44.9,309.48 45.8,309.63 46.7,309.19 47.6,309.62 48.5,309.83 49.4,309.52 50.3,309.78 51.2,309.89 52.1,309.53 53,310.33 53.9,310.36 54.8,310.28 55.7,311.18 56.6,311.93 57.5,311.58 58.4,311.8 59.3,311.94 60.2,311.79 61.1,311.98 62,311.51 62.9,311.87 63.8,311.55 64.7,311.99 65.6,311.94 66.5,311.24 67.4,311.27 68.3,311.35 69.2,312.02 70.1,311.54 71,311.71 71.9,311.42 72.8,311.61 73.7,311.5 74.6,311.47 75.5,311.68 76.4,311.68 76.5,312 78,308 78.7,303.8 79.5,296 80.1,285.4 80.6,272 81.1,262.7 82,259.5 83,256.5 83.6,253 84.2,245.4 85,229.5 85.9,224.2 87.3,223.1 88.6,224.6 89.9,224.2 91.2,221.9 92.8,219.7 93.9,221.5 95.2,226.8 96.5,234.8 98.3,245.4 100,256 100.5,260.6 102.8,278.3 104.9,288 107.1,296.7 110,302.4 111.3,304.5 115.6,307.3 120,307.8 130,308.3 140,309 150,309.5 160,310 170,310.6 181.4,311.1" fill="none" stroke="#222" stroke-width="0.55" stroke-linejoin="round" />
<polyline points="33.2,311.4 50,311.6 70,312 80,312 82.3,310.8 84.5,308.6 86.5,304.5 88,299.5 89.3,292.5 90.5,283 91.5,273 92.5,264 93.4,256.5 94.3,248.9 95.7,239.2 97.4,227.7 99.2,220.6 100.5,219.3 101.9,221.1 103.6,227.7 105.4,236.5 107.2,247.2 108.5,256 109.7,266 111.3,285.4 112.5,295 114.2,302.4 116.3,307.5 118,308 120,308.2 122,308.2 124,307.6 125.5,306.6 126.5,282 127.2,256 127.9,255.7 128.5,262 129.1,290 129.7,307.3 131,308.5 133,308.6 135.5,309.5 138.2,313.7 139.5,316 140.3,318.6 141,317.5 141.8,316.8 143,318.5 143.9,320 145,317 146.7,312.3 150,312.4 152.5,313.7 155,313.4 160,312.6 170,311.8 181.4,311.3" fill="none" stroke="#ea5a5a" stroke-width="0.6" stroke-linejoin="round" />
<line x1="93.3" y1="205.5" x2="106.2" y2="205.5" stroke="#222" stroke-width="0.55"/>
<line x1="93.3" y1="213.5" x2="106.2" y2="213.5" stroke="#ea5a5a" stroke-width="0.6"/>
<text x="108.6" y="207.46" text-anchor="start" font-size="6.2" fill="#000" >Laser Light Scattering</text>
<text x="108.6" y="215.46" text-anchor="start" font-size="6.2" fill="#000" >Differential Refractive Index</text>
<text x="107.5" y="339.96" text-anchor="middle" font-size="6.2" font-weight="bold" fill="#000" >Time (min)</text>
<text transform="translate(19.25,260) rotate(-90)" text-anchor="middle" font-size="6.2" font-weight="bold" fill="#000" >Laser Light Scattering</text>
<text x="103" y="365.66" text-anchor="middle" font-size="12.6" fill="#000" >(D)</text>
<line x1="33.2" y1="397.4" x2="33.2" y2="516.4" stroke="#777777" stroke-width="0.85"/>
<line x1="33.2" y1="507.4" x2="31.2" y2="507.4" stroke="#777777" stroke-width="0.85"/>
<text x="29.8" y="509.45" text-anchor="end" font-size="6.2" fill="#000" >0.0</text>
<line x1="33.2" y1="479.89" x2="31.2" y2="479.89" stroke="#777777" stroke-width="0.85"/>
<text x="29.8" y="481.94" text-anchor="end" font-size="6.2" fill="#000" >0.3</text>
<line x1="33.2" y1="452.38" x2="31.2" y2="452.38" stroke="#777777" stroke-width="0.85"/>
<text x="29.8" y="454.43" text-anchor="end" font-size="6.2" fill="#000" >0.6</text>
<line x1="33.2" y1="424.87" x2="31.2" y2="424.87" stroke="#777777" stroke-width="0.85"/>
<text x="29.8" y="426.92" text-anchor="end" font-size="6.2" fill="#000" >0.9</text>
<line x1="33.2" y1="397.36" x2="31.2" y2="397.36" stroke="#777777" stroke-width="0.85"/>
<text x="29.8" y="399.41" text-anchor="end" font-size="6.2" fill="#000" >1.2</text>
<line x1="33.2" y1="493.64" x2="32" y2="493.64" stroke="#777777" stroke-width="0.85"/>
<line x1="33.2" y1="466.13" x2="32" y2="466.13" stroke="#777777" stroke-width="0.85"/>
<line x1="33.2" y1="438.62" x2="32" y2="438.62" stroke="#777777" stroke-width="0.85"/>
<line x1="33.2" y1="411.11" x2="32" y2="411.11" stroke="#777777" stroke-width="0.85"/>
<line x1="33.2" y1="516.4" x2="33.2" y2="518.4" stroke="#777777" stroke-width="0.85"/>
<line x1="33.2" y1="516.4" x2="181.6" y2="516.4" stroke="#777777" stroke-width="0.85"/>
<line x1="33.1" y1="516.4" x2="33.1" y2="518.4" stroke="#777777" stroke-width="0.85"/>
<text x="33.1" y="525.85" text-anchor="middle" font-size="6.2" fill="#000" >0</text>
<line x1="62.62" y1="516.4" x2="62.62" y2="518.4" stroke="#777777" stroke-width="0.85"/>
<text x="62.62" y="525.85" text-anchor="middle" font-size="6.2" fill="#000" >20</text>
<line x1="92.14" y1="516.4" x2="92.14" y2="518.4" stroke="#777777" stroke-width="0.85"/>
<text x="92.14" y="525.85" text-anchor="middle" font-size="6.2" fill="#000" >40</text>
<line x1="121.66" y1="516.4" x2="121.66" y2="518.4" stroke="#777777" stroke-width="0.85"/>
<text x="121.66" y="525.85" text-anchor="middle" font-size="6.2" fill="#000" >60</text>
<line x1="151.18" y1="516.4" x2="151.18" y2="518.4" stroke="#777777" stroke-width="0.85"/>
<text x="151.18" y="525.85" text-anchor="middle" font-size="6.2" fill="#000" >80</text>
<line x1="180.7" y1="516.4" x2="180.7" y2="518.4" stroke="#777777" stroke-width="0.85"/>
<text x="180.7" y="525.85" text-anchor="middle" font-size="6.2" fill="#000" >100</text>
<line x1="38.02" y1="516.4" x2="38.02" y2="517.4" stroke="#777777" stroke-width="0.85"/>
<line x1="42.94" y1="516.4" x2="42.94" y2="517.4" stroke="#777777" stroke-width="0.85"/>
<line x1="47.86" y1="516.4" x2="47.86" y2="517.4" stroke="#777777" stroke-width="0.85"/>
<line x1="52.78" y1="516.4" x2="52.78" y2="517.4" stroke="#777777" stroke-width="0.85"/>
<line x1="57.7" y1="516.4" x2="57.7" y2="517.4" stroke="#777777" stroke-width="0.85"/>
<line x1="67.54" y1="516.4" x2="67.54" y2="517.4" stroke="#777777" stroke-width="0.85"/>
<line x1="72.46" y1="516.4" x2="72.46" y2="517.4" stroke="#777777" stroke-width="0.85"/>
<line x1="77.38" y1="516.4" x2="77.38" y2="517.4" stroke="#777777" stroke-width="0.85"/>
<line x1="82.3" y1="516.4" x2="82.3" y2="517.4" stroke="#777777" stroke-width="0.85"/>
<line x1="87.22" y1="516.4" x2="87.22" y2="517.4" stroke="#777777" stroke-width="0.85"/>
<line x1="97.06" y1="516.4" x2="97.06" y2="517.4" stroke="#777777" stroke-width="0.85"/>
<line x1="101.98" y1="516.4" x2="101.98" y2="517.4" stroke="#777777" stroke-width="0.85"/>
<line x1="106.9" y1="516.4" x2="106.9" y2="517.4" stroke="#777777" stroke-width="0.85"/>
<line x1="111.82" y1="516.4" x2="111.82" y2="517.4" stroke="#777777" stroke-width="0.85"/>
<line x1="116.74" y1="516.4" x2="116.74" y2="517.4" stroke="#777777" stroke-width="0.85"/>
<line x1="126.58" y1="516.4" x2="126.58" y2="517.4" stroke="#777777" stroke-width="0.85"/>
<line x1="131.5" y1="516.4" x2="131.5" y2="517.4" stroke="#777777" stroke-width="0.85"/>
<line x1="136.42" y1="516.4" x2="136.42" y2="517.4" stroke="#777777" stroke-width="0.85"/>
<line x1="141.34" y1="516.4" x2="141.34" y2="517.4" stroke="#777777" stroke-width="0.85"/>
<line x1="146.26" y1="516.4" x2="146.26" y2="517.4" stroke="#777777" stroke-width="0.85"/>
<line x1="156.1" y1="516.4" x2="156.1" y2="517.4" stroke="#777777" stroke-width="0.85"/>
<line x1="161.02" y1="516.4" x2="161.02" y2="517.4" stroke="#777777" stroke-width="0.85"/>
<line x1="165.94" y1="516.4" x2="165.94" y2="517.4" stroke="#777777" stroke-width="0.85"/>
<line x1="170.86" y1="516.4" x2="170.86" y2="517.4" stroke="#777777" stroke-width="0.85"/>
<line x1="175.78" y1="516.4" x2="175.78" y2="517.4" stroke="#777777" stroke-width="0.85"/>
<polyline points="33.2,507.3 50,507.4 65,507.6 72.6,507.2 75,506.5 76.5,505.3 78,503.5 78.9,502.1 79.6,496 80.5,489.4 82.1,485.4 83.5,482.5 84.5,481.1 85.5,484 86.9,491 88,495.5 89.3,497.3 90.5,496.5 91.7,492.6 92.5,486 93.3,476.6 94.1,466 94.9,455 96.2,436 97.1,424.5 97.8,417.4 98.5,415.4 99.1,417.4 99.8,424.5 100.7,434.2 101.5,444.8 102,455 102.8,463.9 104.4,483 105.5,490 106.8,494.2 108.5,498 110,500.5 112,502.5 114.3,503.4 117,504.5 119.1,505.6 123.1,506.9 130,507.3 150,507.4 181.4,507.4" fill="none" stroke="#222" stroke-width="0.55" stroke-linejoin="round" />
<polyline points="33.2,508.3 50,508.2 70,507.6 86.9,507.2 89.3,506.1 90.5,504 91.7,500.5 93,490 94.1,479.8 95.2,466 96.2,455 97.6,440.4 98.5,427.1 99.8,417.4 100.7,415.6 101.5,417 102.9,422.7 104.2,434.2 105.5,444.8 106.4,455 108,463.9 109,472 111.1,481.4 112.5,488 114.3,494.2 116,499 117.5,502.1 119.5,504.5 121.5,505.6 124.7,505.3 126,500 127,487 127.6,481.4 128.3,488 129.5,505.3 131.9,504.5 133.5,495 134.6,475 135.4,463.1 136.1,475 136.8,495 137.4,503.7 138.2,509.3 140,509 141.5,508.3 143.8,509.3 145.5,507.5 147,507.4 150,508 152.6,508.8 155,508.4 160,507.4 181.4,507.4" fill="none" stroke="#ea5a5a" stroke-width="0.6" stroke-linejoin="round" />
<line x1="92.3" y1="400.5" x2="105.7" y2="400.5" stroke="#222" stroke-width="0.55"/>
<line x1="92.3" y1="408.4" x2="105.7" y2="408.4" stroke="#ea5a5a" stroke-width="0.6"/>
<text x="107.6" y="402.46" text-anchor="start" font-size="6.2" fill="#000" >Laser Light Scattering</text>
<text x="107.6" y="410.36" text-anchor="start" font-size="6.2" fill="#000" >Differential Refractive Index</text>
<text x="107.5" y="535.56" text-anchor="middle" font-size="6.2" font-weight="bold" fill="#000" >Time (min)</text>
<text transform="translate(18.85,457) rotate(-90)" text-anchor="middle" font-size="6.2" font-weight="bold" fill="#000" >Relative Scale</text>
<text x="103" y="560.66" text-anchor="middle" font-size="12.6" fill="#000" >(G)</text>
<line x1="264.5" y1="191.3" x2="264.5" y2="325.3" stroke="#777777" stroke-width="0.85"/>
<line x1="264.5" y1="315.2" x2="262.5" y2="315.2" stroke="#777777" stroke-width="0.85"/>
<text x="261.1" y="317.25" text-anchor="end" font-size="6.2" fill="#000" >0</text>
<line x1="264.5" y1="294.55" x2="262.5" y2="294.55" stroke="#777777" stroke-width="0.85"/>
<text x="261.1" y="296.6" text-anchor="end" font-size="6.2" fill="#000" >1&#215;10<tspan dy="-1.7" font-size="3.7">6</tspan></text>
<line x1="264.5" y1="273.9" x2="262.5" y2="273.9" stroke="#777777" stroke-width="0.85"/>
<text x="261.1" y="275.95" text-anchor="end" font-size="6.2" fill="#000" >2&#215;10<tspan dy="-1.7" font-size="3.7">6</tspan></text>
<line x1="264.5" y1="253.25" x2="262.5" y2="253.25" stroke="#777777" stroke-width="0.85"/>
<text x="261.1" y="255.3" text-anchor="end" font-size="6.2" fill="#000" >3&#215;10<tspan dy="-1.7" font-size="3.7">6</tspan></text>
<line x1="264.5" y1="232.6" x2="262.5" y2="232.6" stroke="#777777" stroke-width="0.85"/>
<text x="261.1" y="234.65" text-anchor="end" font-size="6.2" fill="#000" >4&#215;10<tspan dy="-1.7" font-size="3.7">6</tspan></text>
<line x1="264.5" y1="211.95" x2="262.5" y2="211.95" stroke="#777777" stroke-width="0.85"/>
<text x="261.1" y="214" text-anchor="end" font-size="6.2" fill="#000" >5&#215;10<tspan dy="-1.7" font-size="3.7">6</tspan></text>
<line x1="264.5" y1="191.3" x2="262.5" y2="191.3" stroke="#777777" stroke-width="0.85"/>
<text x="261.1" y="193.35" text-anchor="end" font-size="6.2" fill="#000" >6&#215;10<tspan dy="-1.7" font-size="3.7">6</tspan></text>
<line x1="264.5" y1="304.88" x2="263.3" y2="304.88" stroke="#777777" stroke-width="0.85"/>
<line x1="264.5" y1="284.22" x2="263.3" y2="284.22" stroke="#777777" stroke-width="0.85"/>
<line x1="264.5" y1="263.57" x2="263.3" y2="263.57" stroke="#777777" stroke-width="0.85"/>
<line x1="264.5" y1="242.93" x2="263.3" y2="242.93" stroke="#777777" stroke-width="0.85"/>
<line x1="264.5" y1="222.27" x2="263.3" y2="222.27" stroke="#777777" stroke-width="0.85"/>
<line x1="264.5" y1="201.62" x2="263.3" y2="201.62" stroke="#777777" stroke-width="0.85"/>
<line x1="429.1" y1="191.6" x2="429.1" y2="325.3" stroke="#777777" stroke-width="0.85"/>
<line x1="429.1" y1="314.8" x2="431.1" y2="314.8" stroke="#777777" stroke-width="0.85"/>
<text x="432.7" y="316.85" text-anchor="start" font-size="6.2" fill="#000" >0.0</text>
<line x1="429.1" y1="294.28" x2="431.1" y2="294.28" stroke="#777777" stroke-width="0.85"/>
<text x="432.7" y="296.33" text-anchor="start" font-size="6.2" fill="#000" >0.2</text>
<line x1="429.1" y1="273.76" x2="431.1" y2="273.76" stroke="#777777" stroke-width="0.85"/>
<text x="432.7" y="275.81" text-anchor="start" font-size="6.2" fill="#000" >0.4</text>
<line x1="429.1" y1="253.24" x2="431.1" y2="253.24" stroke="#777777" stroke-width="0.85"/>
<text x="432.7" y="255.29" text-anchor="start" font-size="6.2" fill="#000" >0.6</text>
<line x1="429.1" y1="232.72" x2="431.1" y2="232.72" stroke="#777777" stroke-width="0.85"/>
<text x="432.7" y="234.77" text-anchor="start" font-size="6.2" fill="#000" >0.8</text>
<line x1="429.1" y1="212.2" x2="431.1" y2="212.2" stroke="#777777" stroke-width="0.85"/>
<text x="432.7" y="214.25" text-anchor="start" font-size="6.2" fill="#000" >1.0</text>
<line x1="429.1" y1="191.68" x2="431.1" y2="191.68" stroke="#777777" stroke-width="0.85"/>
<text x="432.7" y="193.73" text-anchor="start" font-size="6.2" fill="#000" >1.2</text>
<line x1="429.1" y1="304.54" x2="430.3" y2="304.54" stroke="#777777" stroke-width="0.85"/>
<line x1="429.1" y1="284.02" x2="430.3" y2="284.02" stroke="#777777" stroke-width="0.85"/>
<line x1="429.1" y1="263.5" x2="430.3" y2="263.5" stroke="#777777" stroke-width="0.85"/>
<line x1="429.1" y1="242.98" x2="430.3" y2="242.98" stroke="#777777" stroke-width="0.85"/>
<line x1="429.1" y1="222.46" x2="430.3" y2="222.46" stroke="#777777" stroke-width="0.85"/>
<line x1="429.1" y1="201.94" x2="430.3" y2="201.94" stroke="#777777" stroke-width="0.85"/>
<line x1="264.5" y1="325.3" x2="429.1" y2="325.3" stroke="#777777" stroke-width="0.85"/>
<line x1="270.17" y1="325.3" x2="270.17" y2="327.3" stroke="#777777" stroke-width="0.85"/>
<text x="270.17" y="334.35" text-anchor="middle" font-size="6.2" fill="#000" >30</text>
<line x1="281.51" y1="325.3" x2="281.51" y2="327.3" stroke="#777777" stroke-width="0.85"/>
<text x="281.51" y="334.35" text-anchor="middle" font-size="6.2" fill="#000" >32</text>
<line x1="292.85" y1="325.3" x2="292.85" y2="327.3" stroke="#777777" stroke-width="0.85"/>
<text x="292.85" y="334.35" text-anchor="middle" font-size="6.2" fill="#000" >34</text>
<line x1="304.19" y1="325.3" x2="304.19" y2="327.3" stroke="#777777" stroke-width="0.85"/>
<text x="304.19" y="334.35" text-anchor="middle" font-size="6.2" fill="#000" >36</text>
<line x1="315.53" y1="325.3" x2="315.53" y2="327.3" stroke="#777777" stroke-width="0.85"/>
<text x="315.53" y="334.35" text-anchor="middle" font-size="6.2" fill="#000" >38</text>
<line x1="326.87" y1="325.3" x2="326.87" y2="327.3" stroke="#777777" stroke-width="0.85"/>
<text x="326.87" y="334.35" text-anchor="middle" font-size="6.2" fill="#000" >40</text>
<line x1="338.21" y1="325.3" x2="338.21" y2="327.3" stroke="#777777" stroke-width="0.85"/>
<text x="338.21" y="334.35" text-anchor="middle" font-size="6.2" fill="#000" >42</text>
<line x1="349.55" y1="325.3" x2="349.55" y2="327.3" stroke="#777777" stroke-width="0.85"/>
<text x="349.55" y="334.35" text-anchor="middle" font-size="6.2" fill="#000" >44</text>
<line x1="360.89" y1="325.3" x2="360.89" y2="327.3" stroke="#777777" stroke-width="0.85"/>
<text x="360.89" y="334.35" text-anchor="middle" font-size="6.2" fill="#000" >46</text>
<line x1="372.23" y1="325.3" x2="372.23" y2="327.3" stroke="#777777" stroke-width="0.85"/>
<text x="372.23" y="334.35" text-anchor="middle" font-size="6.2" fill="#000" >48</text>
<line x1="383.57" y1="325.3" x2="383.57" y2="327.3" stroke="#777777" stroke-width="0.85"/>
<text x="383.57" y="334.35" text-anchor="middle" font-size="6.2" fill="#000" >50</text>
<line x1="394.91" y1="325.3" x2="394.91" y2="327.3" stroke="#777777" stroke-width="0.85"/>
<text x="394.91" y="334.35" text-anchor="middle" font-size="6.2" fill="#000" >52</text>
<line x1="406.25" y1="325.3" x2="406.25" y2="327.3" stroke="#777777" stroke-width="0.85"/>
<text x="406.25" y="334.35" text-anchor="middle" font-size="6.2" fill="#000" >54</text>
<line x1="417.59" y1="325.3" x2="417.59" y2="327.3" stroke="#777777" stroke-width="0.85"/>
<text x="417.59" y="334.35" text-anchor="middle" font-size="6.2" fill="#000" >56</text>
<line x1="428.93" y1="325.3" x2="428.93" y2="327.3" stroke="#777777" stroke-width="0.85"/>
<text x="428.93" y="334.35" text-anchor="middle" font-size="6.2" fill="#000" >58</text>
<line x1="264.5" y1="325.3" x2="264.5" y2="326.3" stroke="#777777" stroke-width="0.85"/>
<line x1="275.84" y1="325.3" x2="275.84" y2="326.3" stroke="#777777" stroke-width="0.85"/>
<line x1="287.18" y1="325.3" x2="287.18" y2="326.3" stroke="#777777" stroke-width="0.85"/>
<line x1="298.52" y1="325.3" x2="298.52" y2="326.3" stroke="#777777" stroke-width="0.85"/>
<line x1="309.86" y1="325.3" x2="309.86" y2="326.3" stroke="#777777" stroke-width="0.85"/>
<line x1="321.2" y1="325.3" x2="321.2" y2="326.3" stroke="#777777" stroke-width="0.85"/>
<line x1="332.54" y1="325.3" x2="332.54" y2="326.3" stroke="#777777" stroke-width="0.85"/>
<line x1="343.88" y1="325.3" x2="343.88" y2="326.3" stroke="#777777" stroke-width="0.85"/>
<line x1="355.22" y1="325.3" x2="355.22" y2="326.3" stroke="#777777" stroke-width="0.85"/>
<line x1="366.56" y1="325.3" x2="366.56" y2="326.3" stroke="#777777" stroke-width="0.85"/>
<line x1="377.9" y1="325.3" x2="377.9" y2="326.3" stroke="#777777" stroke-width="0.85"/>
<line x1="389.24" y1="325.3" x2="389.24" y2="326.3" stroke="#777777" stroke-width="0.85"/>
<line x1="400.58" y1="325.3" x2="400.58" y2="326.3" stroke="#777777" stroke-width="0.85"/>
<line x1="411.92" y1="325.3" x2="411.92" y2="326.3" stroke="#777777" stroke-width="0.85"/>
<line x1="423.26" y1="325.3" x2="423.26" y2="326.3" stroke="#777777" stroke-width="0.85"/>
<path d="M287.4,215.2 C287.67,216.83 288.57,222.03 289,225 C289.43,227.97 289.67,230.5 290,233 C290.33,235.5 290.67,237.5 291,240 C291.33,242.5 291.55,245.35 292,248 C292.45,250.65 293.2,253.73 293.7,255.9 C294.2,258.07 294.53,258.98 295,261 C295.47,263.02 295.92,265.08 296.5,268 C297.08,270.92 297.83,275.5 298.5,278.5 C299.17,281.5 299.7,283.38 300.5,286 C301.3,288.62 302.38,292.03 303.3,294.2 C304.22,296.37 304.95,297.42 306,299 C307.05,300.58 308.43,302.37 309.6,303.7 C310.77,305.03 311.93,306.07 313,307 C314.07,307.93 314.83,308.6 316,309.3 C317.17,310 317.67,310.62 320,311.2 C322.33,311.78 326.67,312.42 330,312.8 C333.33,313.18 335,313.3 340,313.5 C345,313.7 353.33,313.87 360,314 C366.67,314.13 372.23,314.17 380,314.3 C387.77,314.43 402.17,314.72 406.6,314.8" fill="none" stroke="#444" stroke-width="0.5" stroke-linejoin="round"/>
<path d="M264.5,314.5 C267.08,314.5 275.67,314.53 280,314.5 C284.33,314.47 287.68,314.55 290.5,314.3 C293.32,314.05 294.77,313.7 296.9,313 C299.03,312.3 301.18,311.65 303.3,310.1 C305.42,308.55 307.48,306.35 309.6,303.7 C311.72,301.05 314.27,297.25 316,294.2 C317.73,291.15 319.03,287.77 320,285.4 C320.97,283.03 320.67,283.15 321.8,280 C322.93,276.85 325.02,271.1 326.8,266.5 C328.58,261.9 330.62,257.12 332.5,252.4 C334.38,247.68 336.45,241.98 338.1,238.2 C339.75,234.42 340.98,232.42 342.4,229.7 C343.82,226.98 345.2,224.25 346.6,221.9 C348,219.55 349.57,217.08 350.8,215.6 C352.03,214.12 352.93,213.55 354,213 C355.07,212.45 356.03,212.27 357.2,212.3 C358.37,212.33 359.65,212.7 361,213.2 C362.35,213.7 364,214.45 365.3,215.3 C366.6,216.15 367.65,217.15 368.8,218.3 C369.95,219.45 371.05,220.75 372.2,222.2 C373.35,223.65 374.55,225.27 375.7,227 C376.85,228.73 377.95,230.57 379.1,232.6 C380.25,234.63 381.45,236.9 382.6,239.2 C383.75,241.5 384.93,244.05 386,246.4 C387.07,248.75 388.05,251 389,253.3 C389.95,255.6 390.77,257.82 391.7,260.2 C392.63,262.58 393.63,265.12 394.6,267.6 C395.57,270.08 396.55,272.7 397.5,275.1 C398.45,277.5 399.35,279.7 400.3,282 C401.25,284.3 402.25,286.73 403.2,288.9 C404.15,291.07 405.03,293.08 406,295 C406.97,296.92 408.03,298.8 409,300.4 C409.97,302 410.85,303.37 411.8,304.6 C412.75,305.83 413.75,306.95 414.7,307.8 C415.65,308.65 416.53,309.2 417.5,309.7 C418.47,310.2 419.33,310.5 420.5,310.8 C421.67,311.1 423.07,311.3 424.5,311.5 C425.93,311.7 428.33,311.92 429.1,312" fill="none" stroke="#2626e6" stroke-width="0.65" stroke-linejoin="round"/>
<path d="M264.3,316.5 C264.75,316.17 266.08,315.17 267,314.5 C267.92,313.83 268.97,313.25 269.8,312.5 C270.63,311.75 271.33,310.8 272,310 C272.67,309.2 273.1,309.28 273.8,307.7 C274.5,306.12 275.53,303.02 276.2,300.5 C276.87,297.98 277.25,295.52 277.8,292.6 C278.35,289.68 278.97,285.93 279.5,283 C280.03,280.07 280.5,277.5 281,275 C281.5,272.5 281.97,270.12 282.5,268 C283.03,265.88 283.65,263.97 284.2,262.3 C284.75,260.63 285.28,259.2 285.8,258 C286.32,256.8 286.6,255.92 287.3,255.1 C288,254.28 289.3,253.95 290,253.1 C290.7,252.25 291.02,251.1 291.5,250 C291.98,248.9 292.4,248.17 292.9,246.5 C293.4,244.83 293.92,242.33 294.5,240 C295.08,237.67 295.73,234.83 296.4,232.5 C297.07,230.17 297.8,227.88 298.5,226 C299.2,224.12 299.93,222.45 300.6,221.2 C301.27,219.95 301.9,219.2 302.5,218.5 C303.1,217.8 303.33,217.37 304.2,217 C305.07,216.63 306.73,216.3 307.7,216.3 C308.67,216.3 309.3,216.7 310,217 C310.7,217.3 311.1,217.98 311.9,218.1 C312.7,218.22 313.73,217.65 314.8,217.7 C315.87,217.75 317.35,218.6 318.3,218.4 C319.25,218.2 319.8,217.08 320.5,216.5 C321.2,215.92 321.67,215.43 322.5,214.9 C323.33,214.37 324.55,213.7 325.5,213.3 C326.45,212.9 327.17,212.48 328.2,212.5 C329.23,212.52 330.82,212.9 331.7,213.4 C332.58,213.9 332.9,214.78 333.5,215.5 C334.1,216.22 334.6,216.65 335.3,217.7 C336,218.75 336.92,220.48 337.7,221.8 C338.48,223.12 339.05,223.93 340,225.6 C340.95,227.27 342.25,229.68 343.4,231.8 C344.55,233.92 345.75,236.08 346.9,238.3 C348.05,240.52 349.15,242.8 350.3,245.1 C351.45,247.4 352.65,249.78 353.8,252.1 C354.95,254.42 356.05,256.7 357.2,259 C358.35,261.3 359.55,263.65 360.7,265.9 C361.85,268.15 362.95,270.38 364.1,272.5 C365.25,274.62 366.45,276.77 367.6,278.6 C368.75,280.43 369.85,281.97 371,283.5 C372.15,285.03 373.33,286.38 374.5,287.8 C375.67,289.22 376.85,290.65 378,292 C379.15,293.35 380.27,294.73 381.4,295.9 C382.53,297.07 383.65,298.05 384.8,299 C385.95,299.95 387.15,300.85 388.3,301.6 C389.45,302.35 390.55,302.92 391.7,303.5 C392.85,304.08 394.05,304.6 395.2,305.1 C396.35,305.6 397.45,306.05 398.6,306.5 C399.75,306.95 400.95,307.42 402.1,307.8 C403.25,308.18 404.35,308.48 405.5,308.8 C406.65,309.12 407.65,309.45 409,309.7 C410.35,309.95 412.07,310.12 413.6,310.3 C415.13,310.48 416.63,310.63 418.2,310.8 C419.77,310.97 421.18,311.13 423,311.3 C424.82,311.47 428.08,311.72 429.1,311.8" fill="none" stroke="#e41e1e" stroke-width="0.65" stroke-linejoin="round"/>
<line x1="371.3" y1="194.8" x2="385.8" y2="194.8" stroke="#444" stroke-width="0.5"/>
<line x1="371.3" y1="202.5" x2="385.8" y2="202.5" stroke="#e41e1e" stroke-width="0.65"/>
<line x1="371.3" y1="210.4" x2="385.8" y2="210.4" stroke="#2626e6" stroke-width="0.65"/>
<text x="387.2" y="196.76" text-anchor="start" font-size="6.2" fill="#000" >Molar Mass</text>
<text x="387.2" y="204.46" text-anchor="start" font-size="6.2" fill="#000" >Light Scattering</text>
<text x="387.2" y="212.36" text-anchor="start" font-size="6.2" fill="#000" >Refractive Index</text>
<text x="347" y="344.56" text-anchor="middle" font-size="6.2" font-weight="bold" fill="#000" >Time (min)</text>
<text transform="translate(240.38,258.2) rotate(-90)" text-anchor="middle" font-size="6.3" font-weight="bold" fill="#000" >Molar Mass (g/mol)</text>
<text transform="translate(449.65,259) rotate(-90)" text-anchor="middle" font-size="6.2" font-weight="bold" fill="#000" >Relative Scale</text>
<text x="342.7" y="366.16" text-anchor="middle" font-size="12.6" fill="#000" >(E)</text>
<line x1="265.3" y1="391.4" x2="265.3" y2="524.3" stroke="#777777" stroke-width="0.85"/>
<line x1="265.3" y1="512" x2="263.3" y2="512" stroke="#777777" stroke-width="0.85"/>
<text x="261.9" y="514.05" text-anchor="end" font-size="6.2" fill="#000" >0</text>
<line x1="265.3" y1="487.9" x2="263.3" y2="487.9" stroke="#777777" stroke-width="0.85"/>
<text x="261.9" y="489.95" text-anchor="end" font-size="6.2" fill="#000" >1&#215;10<tspan dy="-1.7" font-size="3.7">6</tspan></text>
<line x1="265.3" y1="463.8" x2="263.3" y2="463.8" stroke="#777777" stroke-width="0.85"/>
<text x="261.9" y="465.85" text-anchor="end" font-size="6.2" fill="#000" >2&#215;10<tspan dy="-1.7" font-size="3.7">6</tspan></text>
<line x1="265.3" y1="439.7" x2="263.3" y2="439.7" stroke="#777777" stroke-width="0.85"/>
<text x="261.9" y="441.75" text-anchor="end" font-size="6.2" fill="#000" >3&#215;10<tspan dy="-1.7" font-size="3.7">6</tspan></text>
<line x1="265.3" y1="415.6" x2="263.3" y2="415.6" stroke="#777777" stroke-width="0.85"/>
<text x="261.9" y="417.65" text-anchor="end" font-size="6.2" fill="#000" >4&#215;10<tspan dy="-1.7" font-size="3.7">6</tspan></text>
<line x1="265.3" y1="391.5" x2="263.3" y2="391.5" stroke="#777777" stroke-width="0.85"/>
<text x="261.9" y="393.55" text-anchor="end" font-size="6.2" fill="#000" >5&#215;10<tspan dy="-1.7" font-size="3.7">6</tspan></text>
<line x1="265.3" y1="499.95" x2="264.1" y2="499.95" stroke="#777777" stroke-width="0.85"/>
<line x1="265.3" y1="475.85" x2="264.1" y2="475.85" stroke="#777777" stroke-width="0.85"/>
<line x1="265.3" y1="451.75" x2="264.1" y2="451.75" stroke="#777777" stroke-width="0.85"/>
<line x1="265.3" y1="427.65" x2="264.1" y2="427.65" stroke="#777777" stroke-width="0.85"/>
<line x1="265.3" y1="403.55" x2="264.1" y2="403.55" stroke="#777777" stroke-width="0.85"/>
<line x1="428.5" y1="391.2" x2="428.5" y2="524.3" stroke="#777777" stroke-width="0.85"/>
<line x1="428.5" y1="513.8" x2="430.5" y2="513.8" stroke="#777777" stroke-width="0.85"/>
<text x="432.1" y="515.85" text-anchor="start" font-size="6.2" fill="#000" >0.0</text>
<line x1="428.5" y1="493.36" x2="430.5" y2="493.36" stroke="#777777" stroke-width="0.85"/>
<text x="432.1" y="495.41" text-anchor="start" font-size="6.2" fill="#000" >0.2</text>
<line x1="428.5" y1="472.92" x2="430.5" y2="472.92" stroke="#777777" stroke-width="0.85"/>
<text x="432.1" y="474.97" text-anchor="start" font-size="6.2" fill="#000" >0.4</text>
<line x1="428.5" y1="452.48" x2="430.5" y2="452.48" stroke="#777777" stroke-width="0.85"/>
<text x="432.1" y="454.53" text-anchor="start" font-size="6.2" fill="#000" >0.6</text>
<line x1="428.5" y1="432.04" x2="430.5" y2="432.04" stroke="#777777" stroke-width="0.85"/>
<text x="432.1" y="434.09" text-anchor="start" font-size="6.2" fill="#000" >0.8</text>
<line x1="428.5" y1="411.6" x2="430.5" y2="411.6" stroke="#777777" stroke-width="0.85"/>
<text x="432.1" y="413.65" text-anchor="start" font-size="6.2" fill="#000" >1.0</text>
<line x1="428.5" y1="391.16" x2="430.5" y2="391.16" stroke="#777777" stroke-width="0.85"/>
<text x="432.1" y="393.21" text-anchor="start" font-size="6.2" fill="#000" >1.2</text>
<line x1="428.5" y1="503.58" x2="429.7" y2="503.58" stroke="#777777" stroke-width="0.85"/>
<line x1="428.5" y1="483.14" x2="429.7" y2="483.14" stroke="#777777" stroke-width="0.85"/>
<line x1="428.5" y1="462.7" x2="429.7" y2="462.7" stroke="#777777" stroke-width="0.85"/>
<line x1="428.5" y1="442.26" x2="429.7" y2="442.26" stroke="#777777" stroke-width="0.85"/>
<line x1="428.5" y1="421.82" x2="429.7" y2="421.82" stroke="#777777" stroke-width="0.85"/>
<line x1="428.5" y1="401.38" x2="429.7" y2="401.38" stroke="#777777" stroke-width="0.85"/>
<line x1="265.3" y1="524.3" x2="428.5" y2="524.3" stroke="#777777" stroke-width="0.85"/>
<line x1="271.81" y1="524.3" x2="271.81" y2="526.3" stroke="#777777" stroke-width="0.85"/>
<text x="271.81" y="533.25" text-anchor="middle" font-size="6.2" fill="#000" >34</text>
<line x1="284.83" y1="524.3" x2="284.83" y2="526.3" stroke="#777777" stroke-width="0.85"/>
<text x="284.83" y="533.25" text-anchor="middle" font-size="6.2" fill="#000" >36</text>
<line x1="297.85" y1="524.3" x2="297.85" y2="526.3" stroke="#777777" stroke-width="0.85"/>
<text x="297.85" y="533.25" text-anchor="middle" font-size="6.2" fill="#000" >38</text>
<line x1="310.87" y1="524.3" x2="310.87" y2="526.3" stroke="#777777" stroke-width="0.85"/>
<text x="310.87" y="533.25" text-anchor="middle" font-size="6.2" fill="#000" >40</text>
<line x1="323.89" y1="524.3" x2="323.89" y2="526.3" stroke="#777777" stroke-width="0.85"/>
<text x="323.89" y="533.25" text-anchor="middle" font-size="6.2" fill="#000" >42</text>
<line x1="336.91" y1="524.3" x2="336.91" y2="526.3" stroke="#777777" stroke-width="0.85"/>
<text x="336.91" y="533.25" text-anchor="middle" font-size="6.2" fill="#000" >44</text>
<line x1="349.93" y1="524.3" x2="349.93" y2="526.3" stroke="#777777" stroke-width="0.85"/>
<text x="349.93" y="533.25" text-anchor="middle" font-size="6.2" fill="#000" >46</text>
<line x1="362.95" y1="524.3" x2="362.95" y2="526.3" stroke="#777777" stroke-width="0.85"/>
<text x="362.95" y="533.25" text-anchor="middle" font-size="6.2" fill="#000" >48</text>
<line x1="375.97" y1="524.3" x2="375.97" y2="526.3" stroke="#777777" stroke-width="0.85"/>
<text x="375.97" y="533.25" text-anchor="middle" font-size="6.2" fill="#000" >50</text>
<line x1="388.99" y1="524.3" x2="388.99" y2="526.3" stroke="#777777" stroke-width="0.85"/>
<text x="388.99" y="533.25" text-anchor="middle" font-size="6.2" fill="#000" >52</text>
<line x1="402.01" y1="524.3" x2="402.01" y2="526.3" stroke="#777777" stroke-width="0.85"/>
<text x="402.01" y="533.25" text-anchor="middle" font-size="6.2" fill="#000" >54</text>
<line x1="415.03" y1="524.3" x2="415.03" y2="526.3" stroke="#777777" stroke-width="0.85"/>
<text x="415.03" y="533.25" text-anchor="middle" font-size="6.2" fill="#000" >56</text>
<line x1="428.05" y1="524.3" x2="428.05" y2="526.3" stroke="#777777" stroke-width="0.85"/>
<text x="428.05" y="533.25" text-anchor="middle" font-size="6.2" fill="#000" >58</text>
<line x1="278.32" y1="524.3" x2="278.32" y2="525.3" stroke="#777777" stroke-width="0.85"/>
<line x1="291.34" y1="524.3" x2="291.34" y2="525.3" stroke="#777777" stroke-width="0.85"/>
<line x1="304.36" y1="524.3" x2="304.36" y2="525.3" stroke="#777777" stroke-width="0.85"/>
<line x1="317.38" y1="524.3" x2="317.38" y2="525.3" stroke="#777777" stroke-width="0.85"/>
<line x1="330.4" y1="524.3" x2="330.4" y2="525.3" stroke="#777777" stroke-width="0.85"/>
<line x1="343.42" y1="524.3" x2="343.42" y2="525.3" stroke="#777777" stroke-width="0.85"/>
<line x1="356.44" y1="524.3" x2="356.44" y2="525.3" stroke="#777777" stroke-width="0.85"/>
<line x1="369.46" y1="524.3" x2="369.46" y2="525.3" stroke="#777777" stroke-width="0.85"/>
<line x1="382.48" y1="524.3" x2="382.48" y2="525.3" stroke="#777777" stroke-width="0.85"/>
<line x1="395.5" y1="524.3" x2="395.5" y2="525.3" stroke="#777777" stroke-width="0.85"/>
<line x1="408.52" y1="524.3" x2="408.52" y2="525.3" stroke="#777777" stroke-width="0.85"/>
<line x1="421.54" y1="524.3" x2="421.54" y2="525.3" stroke="#777777" stroke-width="0.85"/>
<path d="M288.5,411.3 C288.63,413.58 289,420.22 289.3,425 C289.6,429.78 289.92,434.17 290.3,440 C290.68,445.83 291.15,454.47 291.6,460 C292.05,465.53 292.43,469.23 293,473.2 C293.57,477.17 294.23,480.48 295,483.8 C295.77,487.12 296.72,490.55 297.6,493.1 C298.48,495.65 299.07,497.32 300.3,499.1 C301.53,500.88 303.12,502.57 305,503.8 C306.88,505.03 309.4,505.78 311.6,506.5 C313.8,507.22 315.98,507.7 318.2,508.1 C320.42,508.5 321.27,508.55 324.9,508.9 C328.53,509.25 334.8,509.83 340,510.2 C345.2,510.57 349.43,510.9 356.1,511.1 C362.77,511.3 371.17,511.37 380,511.4 C388.83,511.43 404.25,511.32 409.1,511.3" fill="none" stroke="#444" stroke-width="0.5" stroke-linejoin="round"/>
<path d="M265.8,513.7 C268.17,513.68 275.12,513.65 280,513.6 C284.88,513.55 291.63,513.62 295.1,513.4 C298.57,513.18 298.92,512.97 300.8,512.3 C302.68,511.63 304.52,510.58 306.4,509.4 C308.28,508.22 310.45,506.77 312.1,505.2 C313.75,503.63 314.98,502.12 316.3,500 C317.62,497.88 318.72,495.75 320,492.5 C321.28,489.25 322.62,484.83 324,480.5 C325.38,476.17 327.13,470.92 328.3,466.5 C329.47,462.08 330.05,458.15 331,454 C331.95,449.85 333.17,445.1 334,441.6 C334.83,438.1 335.3,435.6 336,433 C336.7,430.4 337.45,428.08 338.2,426 C338.95,423.92 339.78,422.15 340.5,420.5 C341.22,418.85 341.75,417.43 342.5,416.1 C343.25,414.77 344.07,413.33 345,412.5 C345.93,411.67 346.82,411.07 348.1,411.1 C349.38,411.13 351.22,411.55 352.7,412.7 C354.18,413.85 355.58,415.95 357,418 C358.42,420.05 359.62,422.17 361.2,425 C362.78,427.83 364.73,431.73 366.5,435 C368.27,438.27 370.02,441.42 371.8,444.6 C373.58,447.78 375.42,450.92 377.2,454.1 C378.98,457.28 380.73,460.52 382.5,463.7 C384.27,466.88 386.03,470.02 387.8,473.2 C389.57,476.38 391.33,479.78 393.1,482.8 C394.87,485.82 396.63,488.53 398.4,491.3 C400.17,494.07 401.93,497.2 403.7,499.4 C405.47,501.6 407.23,503.08 409,504.5 C410.77,505.92 412.35,507.02 414.3,507.9 C416.25,508.78 418.37,509.15 420.7,509.8 C423.03,510.45 427.03,511.47 428.3,511.8" fill="none" stroke="#2626e6" stroke-width="0.65" stroke-linejoin="round"/>
<path d="M265.8,489.6 C266.17,489.43 267.13,489.07 268,488.6 C268.87,488.13 270,487.4 271,486.8 C272,486.2 272.93,485.47 274,485 C275.07,484.53 276.57,484.08 277.4,484 C278.23,483.92 278.42,484.03 279,484.5 C279.58,484.97 280.15,485.88 280.9,486.8 C281.65,487.72 282.55,488.82 283.5,490 C284.45,491.18 285.6,492.6 286.6,493.9 C287.6,495.2 288.55,496.63 289.5,497.8 C290.45,498.97 291.38,500.15 292.3,500.9 C293.22,501.65 294.07,502.02 295,502.3 C295.93,502.58 297.07,502.58 297.9,502.6 C298.73,502.62 299.28,502.57 300,502.4 C300.72,502.23 301.37,502.17 302.2,501.6 C303.03,501.03 304.07,500.05 305,499 C305.93,497.95 306.88,496.8 307.8,495.3 C308.72,493.8 309.55,491.88 310.5,490 C311.45,488.12 312.67,485.92 313.5,484 C314.33,482.08 314.8,480.4 315.5,478.5 C316.2,476.6 316.95,474.93 317.7,472.6 C318.45,470.27 319.2,467.43 320,464.5 C320.8,461.57 321.58,458.35 322.5,455 C323.42,451.65 324.5,448.23 325.5,444.4 C326.5,440.57 327.57,435.65 328.5,432 C329.43,428.35 330.35,425.08 331.1,422.5 C331.85,419.92 332.4,418.03 333,416.5 C333.6,414.97 334.2,414.05 334.7,413.3 C335.2,412.55 335.53,412.3 336,412 C336.47,411.7 337,411.45 337.5,411.5 C338,411.55 338.5,411.88 339,412.3 C339.5,412.72 339.83,412.88 340.5,414 C341.17,415.12 342.2,417.08 343,419 C343.8,420.92 344.55,423.17 345.3,425.5 C346.05,427.83 346.78,430.17 347.5,433 C348.22,435.83 348.9,439.33 349.6,442.5 C350.3,445.67 351,448.82 351.7,452 C352.4,455.18 353.08,458.85 353.8,461.6 C354.52,464.35 355.3,466.38 356,468.5 C356.7,470.62 357.3,472.38 358,474.3 C358.7,476.22 359.48,478.22 360.2,480 C360.92,481.78 361.5,483.42 362.3,485 C363.1,486.58 364.12,488.1 365,489.5 C365.88,490.9 366.68,492.18 367.6,493.4 C368.52,494.62 369.43,495.73 370.5,496.8 C371.57,497.87 372.75,498.9 374,499.8 C375.25,500.7 376.58,501.5 378,502.2 C379.42,502.9 380.92,503.4 382.5,504 C384.08,504.6 385.73,505.27 387.5,505.8 C389.27,506.33 391.52,506.8 393.1,507.2 C394.68,507.6 395.58,507.88 397,508.2 C398.42,508.52 400.27,508.9 401.6,509.1 C402.93,509.3 403.93,509.37 405,509.4 C406.07,509.43 407.17,509.4 408,509.3 C408.83,509.2 409.3,508.97 410,508.8 C410.7,508.63 411.48,508.37 412.2,508.3 C412.92,508.23 413.6,508.33 414.3,508.4 C415,508.47 415.28,508.47 416.4,508.7 C417.52,508.93 419.02,509.28 421,509.8 C422.98,510.32 427.08,511.47 428.3,511.8" fill="none" stroke="#ea5a5a" stroke-width="0.6" stroke-linejoin="round"/>
<line x1="368.1" y1="394.5" x2="382.1" y2="394.5" stroke="#444" stroke-width="0.5"/>
<line x1="368.1" y1="402.3" x2="382.1" y2="402.3" stroke="#2626e6" stroke-width="0.65"/>
<line x1="368.1" y1="409.8" x2="382.1" y2="409.8" stroke="#ea5a5a" stroke-width="0.6"/>
<text x="383.7" y="396.46" text-anchor="start" font-size="6.2" fill="#000" >Molar Mass</text>
<text x="383.7" y="404.26" text-anchor="start" font-size="6.2" fill="#000" >Refractive Index</text>
<text x="383.7" y="411.76" text-anchor="start" font-size="6.2" fill="#000" >Light Scattering</text>
<text x="347" y="543.76" text-anchor="middle" font-size="6.2" font-weight="bold" fill="#000" >Time (min)</text>
<text transform="translate(241.45,456.5) rotate(-90)" text-anchor="middle" font-size="6.2" font-weight="bold" fill="#000" >Molar Mass (g/mol)</text>
<text transform="translate(448.95,457) rotate(-90)" text-anchor="middle" font-size="6.2" font-weight="bold" fill="#000" >Relative Scale</text>
<text x="342.7" y="561.46" text-anchor="middle" font-size="12.6" fill="#000" >(H)</text>
<rect x="516.4" y="201.2" width="149.3" height="119.4" fill="none" stroke="#777777" stroke-width="0.85"/>
<line x1="516.7" y1="201.2" x2="516.7" y2="199.2" stroke="#777777" stroke-width="0.85"/>
<line x1="516.7" y1="320.6" x2="516.7" y2="322.6" stroke="#777777" stroke-width="0.85"/>
<text x="516.7" y="195.95" text-anchor="middle" font-size="6.2" fill="#000" >10000</text>
<text x="516.7" y="329.65" text-anchor="middle" font-size="6.2" fill="#000" >10000</text>
<line x1="570.1" y1="201.2" x2="570.1" y2="199.2" stroke="#777777" stroke-width="0.85"/>
<line x1="570.1" y1="320.6" x2="570.1" y2="322.6" stroke="#777777" stroke-width="0.85"/>
<text x="570.1" y="195.95" text-anchor="middle" font-size="6.2" fill="#000" >100000</text>
<text x="570.1" y="329.65" text-anchor="middle" font-size="6.2" fill="#000" >100000</text>
<line x1="623.5" y1="201.2" x2="623.5" y2="199.2" stroke="#777777" stroke-width="0.85"/>
<line x1="623.5" y1="320.6" x2="623.5" y2="322.6" stroke="#777777" stroke-width="0.85"/>
<text x="623.5" y="195.95" text-anchor="middle" font-size="6.2" fill="#000" >1000000</text>
<text x="623.5" y="329.65" text-anchor="middle" font-size="6.2" fill="#000" >1000000</text>
<line x1="532.78" y1="201.2" x2="532.78" y2="200.1" stroke="#777777" stroke-width="0.85"/>
<line x1="532.78" y1="320.6" x2="532.78" y2="321.7" stroke="#777777" stroke-width="0.85"/>
<line x1="542.18" y1="201.2" x2="542.18" y2="200.1" stroke="#777777" stroke-width="0.85"/>
<line x1="542.18" y1="320.6" x2="542.18" y2="321.7" stroke="#777777" stroke-width="0.85"/>
<line x1="548.85" y1="201.2" x2="548.85" y2="200.1" stroke="#777777" stroke-width="0.85"/>
<line x1="548.85" y1="320.6" x2="548.85" y2="321.7" stroke="#777777" stroke-width="0.85"/>
<line x1="554.02" y1="201.2" x2="554.02" y2="200.1" stroke="#777777" stroke-width="0.85"/>
<line x1="554.02" y1="320.6" x2="554.02" y2="321.7" stroke="#777777" stroke-width="0.85"/>
<line x1="558.25" y1="201.2" x2="558.25" y2="200.1" stroke="#777777" stroke-width="0.85"/>
<line x1="558.25" y1="320.6" x2="558.25" y2="321.7" stroke="#777777" stroke-width="0.85"/>
<line x1="561.83" y1="201.2" x2="561.83" y2="200.1" stroke="#777777" stroke-width="0.85"/>
<line x1="561.83" y1="320.6" x2="561.83" y2="321.7" stroke="#777777" stroke-width="0.85"/>
<line x1="564.93" y1="201.2" x2="564.93" y2="200.1" stroke="#777777" stroke-width="0.85"/>
<line x1="564.93" y1="320.6" x2="564.93" y2="321.7" stroke="#777777" stroke-width="0.85"/>
<line x1="567.66" y1="201.2" x2="567.66" y2="200.1" stroke="#777777" stroke-width="0.85"/>
<line x1="567.66" y1="320.6" x2="567.66" y2="321.7" stroke="#777777" stroke-width="0.85"/>
<line x1="586.18" y1="201.2" x2="586.18" y2="200.1" stroke="#777777" stroke-width="0.85"/>
<line x1="586.18" y1="320.6" x2="586.18" y2="321.7" stroke="#777777" stroke-width="0.85"/>
<line x1="595.58" y1="201.2" x2="595.58" y2="200.1" stroke="#777777" stroke-width="0.85"/>
<line x1="595.58" y1="320.6" x2="595.58" y2="321.7" stroke="#777777" stroke-width="0.85"/>
<line x1="602.25" y1="201.2" x2="602.25" y2="200.1" stroke="#777777" stroke-width="0.85"/>
<line x1="602.25" y1="320.6" x2="602.25" y2="321.7" stroke="#777777" stroke-width="0.85"/>
<line x1="607.42" y1="201.2" x2="607.42" y2="200.1" stroke="#777777" stroke-width="0.85"/>
<line x1="607.42" y1="320.6" x2="607.42" y2="321.7" stroke="#777777" stroke-width="0.85"/>
<line x1="611.65" y1="201.2" x2="611.65" y2="200.1" stroke="#777777" stroke-width="0.85"/>
<line x1="611.65" y1="320.6" x2="611.65" y2="321.7" stroke="#777777" stroke-width="0.85"/>
<line x1="615.23" y1="201.2" x2="615.23" y2="200.1" stroke="#777777" stroke-width="0.85"/>
<line x1="615.23" y1="320.6" x2="615.23" y2="321.7" stroke="#777777" stroke-width="0.85"/>
<line x1="618.33" y1="201.2" x2="618.33" y2="200.1" stroke="#777777" stroke-width="0.85"/>
<line x1="618.33" y1="320.6" x2="618.33" y2="321.7" stroke="#777777" stroke-width="0.85"/>
<line x1="621.06" y1="201.2" x2="621.06" y2="200.1" stroke="#777777" stroke-width="0.85"/>
<line x1="621.06" y1="320.6" x2="621.06" y2="321.7" stroke="#777777" stroke-width="0.85"/>
<line x1="639.58" y1="201.2" x2="639.58" y2="200.1" stroke="#777777" stroke-width="0.85"/>
<line x1="639.58" y1="320.6" x2="639.58" y2="321.7" stroke="#777777" stroke-width="0.85"/>
<line x1="648.98" y1="201.2" x2="648.98" y2="200.1" stroke="#777777" stroke-width="0.85"/>
<line x1="648.98" y1="320.6" x2="648.98" y2="321.7" stroke="#777777" stroke-width="0.85"/>
<line x1="655.65" y1="201.2" x2="655.65" y2="200.1" stroke="#777777" stroke-width="0.85"/>
<line x1="655.65" y1="320.6" x2="655.65" y2="321.7" stroke="#777777" stroke-width="0.85"/>
<line x1="660.82" y1="201.2" x2="660.82" y2="200.1" stroke="#777777" stroke-width="0.85"/>
<line x1="660.82" y1="320.6" x2="660.82" y2="321.7" stroke="#777777" stroke-width="0.85"/>
<line x1="665.05" y1="201.2" x2="665.05" y2="200.1" stroke="#777777" stroke-width="0.85"/>
<line x1="665.05" y1="320.6" x2="665.05" y2="321.7" stroke="#777777" stroke-width="0.85"/>
<line x1="516.4" y1="320.6" x2="514.4" y2="320.6" stroke="#777777" stroke-width="0.85"/>
<line x1="665.7" y1="320.6" x2="667.7" y2="320.6" stroke="#777777" stroke-width="0.85"/>
<text x="513.1" y="322.65" text-anchor="end" font-size="6.2" fill="#000" >10</text>
<text x="669" y="322.65" text-anchor="start" font-size="6.2" fill="#000" >10</text>
<line x1="516.4" y1="228.4" x2="514.4" y2="228.4" stroke="#777777" stroke-width="0.85"/>
<line x1="665.7" y1="228.4" x2="667.7" y2="228.4" stroke="#777777" stroke-width="0.85"/>
<text x="513.1" y="230.45" text-anchor="end" font-size="6.2" fill="#000" >100</text>
<text x="669" y="230.45" text-anchor="start" font-size="6.2" fill="#000" >100</text>
<line x1="516.4" y1="292.85" x2="515.3" y2="292.85" stroke="#777777" stroke-width="0.85"/>
<line x1="665.7" y1="292.85" x2="666.8" y2="292.85" stroke="#777777" stroke-width="0.85"/>
<line x1="516.4" y1="276.61" x2="515.3" y2="276.61" stroke="#777777" stroke-width="0.85"/>
<line x1="665.7" y1="276.61" x2="666.8" y2="276.61" stroke="#777777" stroke-width="0.85"/>
<line x1="516.4" y1="265.09" x2="515.3" y2="265.09" stroke="#777777" stroke-width="0.85"/>
<line x1="665.7" y1="265.09" x2="666.8" y2="265.09" stroke="#777777" stroke-width="0.85"/>
<line x1="516.4" y1="256.15" x2="515.3" y2="256.15" stroke="#777777" stroke-width="0.85"/>
<line x1="665.7" y1="256.15" x2="666.8" y2="256.15" stroke="#777777" stroke-width="0.85"/>
<line x1="516.4" y1="248.85" x2="515.3" y2="248.85" stroke="#777777" stroke-width="0.85"/>
<line x1="665.7" y1="248.85" x2="666.8" y2="248.85" stroke="#777777" stroke-width="0.85"/>
<line x1="516.4" y1="242.68" x2="515.3" y2="242.68" stroke="#777777" stroke-width="0.85"/>
<line x1="665.7" y1="242.68" x2="666.8" y2="242.68" stroke="#777777" stroke-width="0.85"/>
<line x1="516.4" y1="237.34" x2="515.3" y2="237.34" stroke="#777777" stroke-width="0.85"/>
<line x1="665.7" y1="237.34" x2="666.8" y2="237.34" stroke="#777777" stroke-width="0.85"/>
<line x1="516.4" y1="232.62" x2="515.3" y2="232.62" stroke="#777777" stroke-width="0.85"/>
<line x1="665.7" y1="232.62" x2="666.8" y2="232.62" stroke="#777777" stroke-width="0.85"/>
<polyline points="531.4,234.4 528.8,238.5 527,242.6 526.1,245.5 527,249 527.6,252 528.5,254.9 529.3,257.2 529.7,259.4 531,263.4 532.5,264 534.3,265.3 535.5,267.5 536.3,269.3 537.6,271.2 539.5,270.5 541.5,269.3 542.2,272 542.9,273.2 545.5,273.2 547,274.5 548.8,275.5 550.5,274 552,273.6 555.3,274.1 557.5,273.2 559.9,272.6 563,272.4 566.5,272.2 569,270.8 571.8,269.3 575,268.2 579.6,266.6 586.2,266 590,265.5 594.1,264.7 597,265 600.3,266.1 602.9,264.8 607,264.2 612.1,263.9 616,264.4 620,265.1 624,264.8 627.9,264.4 634.4,262.9 641,260.2 647.6,256.3 654.1,251.7 660.3,247.1" fill="none" stroke="#222" stroke-width="0.5" stroke-linejoin="round" />
<polyline points="531.4,234.4 528.8,238.5 527,242.6 526.1,245.5 527,249 527.6,252 528.5,254.9" fill="none" stroke="#333" stroke-width="0.9" stroke-linejoin="round" />
<polyline points="532.2,234.8 529.8,238.8 528.2,242.8 527.4,246 528.1,249.5" fill="none" stroke="#555" stroke-width="0.5" stroke-linejoin="round" stroke-dasharray="0.8 0.5"/>
<circle cx="538" cy="242.3" r="0.35" fill="#444"/>
<circle cx="533.2" cy="249.5" r="0.35" fill="#444"/>
<circle cx="534" cy="236.5" r="0.35" fill="#444"/>
<circle cx="537.2" cy="238.5" r="0.35" fill="#444"/>
<circle cx="545.5" cy="239.4" r="0.35" fill="#444"/>
<circle cx="531.5" cy="252.5" r="0.35" fill="#444"/>
<circle cx="536" cy="244.5" r="0.35" fill="#444"/>
<polyline points="533.4,235.3 535.2,237.9 533.4,240.3 532.3,243.2 531.1,246.7 530.5,251.4 530.8,255.4" fill="none" stroke="#555" stroke-width="0.4" stroke-linejoin="round" stroke-dasharray="0.8 0.8"/>
<polyline points="536.4,233.5 539.9,235.6 541,237.6 540.4,238.8 538.7,242.6" fill="none" stroke="#555" stroke-width="0.4" stroke-linejoin="round" stroke-dasharray="0.8 0.8"/>
<polyline points="549.8,234.4 548,237.3 546.3,240.3 547.4,241.4" fill="none" stroke="#555" stroke-width="0.4" stroke-linejoin="round" stroke-dasharray="0.8 0.8"/>
<line x1="525.5" y1="269.6" x2="660.5" y2="256" stroke="#e41e1e" stroke-width="0.6"/>
<rect x="590.6" y="283.1" width="71.9" height="34.1" fill="#fff" stroke="#999" stroke-width="0.4"/>
<line x1="590.6" y1="286.89" x2="662.5" y2="286.89" stroke="#bbb" stroke-width="0.3"/>
<line x1="590.6" y1="290.68" x2="662.5" y2="290.68" stroke="#bbb" stroke-width="0.3"/>
<line x1="590.6" y1="294.47" x2="662.5" y2="294.47" stroke="#bbb" stroke-width="0.3"/>
<line x1="590.6" y1="298.26" x2="662.5" y2="298.26" stroke="#bbb" stroke-width="0.3"/>
<line x1="590.6" y1="302.04" x2="662.5" y2="302.04" stroke="#bbb" stroke-width="0.3"/>
<line x1="590.6" y1="305.83" x2="662.5" y2="305.83" stroke="#bbb" stroke-width="0.3"/>
<line x1="590.6" y1="309.62" x2="662.5" y2="309.62" stroke="#bbb" stroke-width="0.3"/>
<line x1="590.6" y1="313.41" x2="662.5" y2="313.41" stroke="#bbb" stroke-width="0.3"/>
<line x1="628.4" y1="283.1" x2="628.4" y2="317.2" stroke="#bbb" stroke-width="0.3"/>
<text transform="translate(591.5,286.06) scale(0.25) rotate(0.05)" font-size="13" fill="#1a1a1a" stroke="#1a1a1a" stroke-width="0.35" text-rendering="geometricPrecision">Equation</text>
<text transform="translate(645.45,286.06) scale(0.25) rotate(0.05)" font-size="13" text-anchor="middle" fill="#1a1a1a" stroke="#1a1a1a" stroke-width="0.35" text-rendering="geometricPrecision">y = a + b*x</text>
<text transform="translate(591.5,289.84) scale(0.25) rotate(0.05)" font-size="13" fill="#1a1a1a" stroke="#1a1a1a" stroke-width="0.35" text-rendering="geometricPrecision">Plot</text>
<text transform="translate(645.45,289.84) scale(0.25) rotate(0.05)" font-size="13" text-anchor="middle" fill="#1a1a1a" stroke="#1a1a1a" stroke-width="0.35" text-rendering="geometricPrecision">lg(R.M.S. Radius, nm)</text>
<text transform="translate(591.5,293.63) scale(0.25) rotate(0.05)" font-size="13" fill="#1a1a1a" stroke="#1a1a1a" stroke-width="0.35" text-rendering="geometricPrecision">Weight</text>
<text transform="translate(645.45,293.63) scale(0.25) rotate(0.05)" font-size="13" text-anchor="middle" fill="#1a1a1a" stroke="#1a1a1a" stroke-width="0.35" text-rendering="geometricPrecision">No Weighting</text>
<text transform="translate(591.5,297.42) scale(0.25) rotate(0.05)" font-size="13" fill="#1a1a1a" stroke="#1a1a1a" stroke-width="0.35" text-rendering="geometricPrecision">Intercept</text>
<text transform="translate(645.45,297.42) scale(0.25) rotate(0.05)" font-size="13" text-anchor="middle" fill="#1a1a1a" stroke="#1a1a1a" stroke-width="0.35" text-rendering="geometricPrecision">1.32138 &#177; 2.92133E-16</text>
<text transform="translate(591.5,301.21) scale(0.25) rotate(0.05)" font-size="13" fill="#1a1a1a" stroke="#1a1a1a" stroke-width="0.35" text-rendering="geometricPrecision">Slope</text>
<text transform="translate(645.45,301.21) scale(0.25) rotate(0.05)" font-size="13" text-anchor="middle" fill="#1a1a1a" stroke="#1a1a1a" stroke-width="0.35" text-rendering="geometricPrecision">0.05592 &#177; 5.04497E-17</text>
<text transform="translate(591.5,305) scale(0.25) rotate(0.05)" font-size="13" fill="#1a1a1a" stroke="#1a1a1a" stroke-width="0.35" text-rendering="geometricPrecision">Residual Sum of Squares</text>
<text transform="translate(645.45,305) scale(0.25) rotate(0.05)" font-size="13" text-anchor="middle" fill="#1a1a1a" stroke="#1a1a1a" stroke-width="0.35" text-rendering="geometricPrecision">2.75298E-27</text>
<text transform="translate(591.5,308.79) scale(0.25) rotate(0.05)" font-size="13" fill="#1a1a1a" stroke="#1a1a1a" stroke-width="0.35" text-rendering="geometricPrecision">Pearson's r</text>
<text transform="translate(645.45,308.79) scale(0.25) rotate(0.05)" font-size="13" text-anchor="middle" fill="#1a1a1a" stroke="#1a1a1a" stroke-width="0.35" text-rendering="geometricPrecision">1</text>
<text transform="translate(591.5,312.58) scale(0.25) rotate(0.05)" font-size="13" fill="#1a1a1a" stroke="#1a1a1a" stroke-width="0.35" text-rendering="geometricPrecision">R-Square (COD)</text>
<text transform="translate(645.45,312.58) scale(0.25) rotate(0.05)" font-size="13" text-anchor="middle" fill="#1a1a1a" stroke="#1a1a1a" stroke-width="0.35" text-rendering="geometricPrecision">1</text>
<text transform="translate(591.5,316.37) scale(0.25) rotate(0.05)" font-size="13" fill="#1a1a1a" stroke="#1a1a1a" stroke-width="0.35" text-rendering="geometricPrecision">Adj. R-Square</text>
<text transform="translate(645.45,316.37) scale(0.25) rotate(0.05)" font-size="13" text-anchor="middle" fill="#1a1a1a" stroke="#1a1a1a" stroke-width="0.35" text-rendering="geometricPrecision">1</text>
<text x="591.1" y="339.96" text-anchor="middle" font-size="6.2" font-weight="bold" fill="#000" >lg [Molar Mass (g/mol)]</text>
<text transform="translate(501.95,260.6) rotate(-90)" text-anchor="middle" font-size="6.2" font-weight="bold" fill="#000" >lg(R.M.S. Radius, nm)</text>
<text x="586.6" y="365.66" text-anchor="middle" font-size="12.6" fill="#000" >(F)</text>
<rect x="516.4" y="397.1" width="149.3" height="119.5" fill="none" stroke="#777777" stroke-width="0.85"/>
<line x1="537.5" y1="397.1" x2="537.5" y2="395.1" stroke="#777777" stroke-width="0.85"/>
<line x1="537.5" y1="516.6" x2="537.5" y2="518.6" stroke="#777777" stroke-width="0.85"/>
<text x="537.5" y="391.95" text-anchor="middle" font-size="6.2" fill="#000" >1.0&#215;10<tspan dy="-1.9" font-size="3.8">5</tspan></text>
<text x="537.5" y="526.55" text-anchor="middle" font-size="6.2" fill="#000" >1.0&#215;10<tspan dy="-1.9" font-size="3.8">5</tspan></text>
<line x1="589.1" y1="397.1" x2="589.1" y2="395.1" stroke="#777777" stroke-width="0.85"/>
<line x1="589.1" y1="516.6" x2="589.1" y2="518.6" stroke="#777777" stroke-width="0.85"/>
<text x="589.1" y="391.95" text-anchor="middle" font-size="6.2" fill="#000" >1.0&#215;10<tspan dy="-1.9" font-size="3.8">6</tspan></text>
<text x="589.1" y="526.55" text-anchor="middle" font-size="6.2" fill="#000" >1.0&#215;10<tspan dy="-1.9" font-size="3.8">6</tspan></text>
<line x1="640.7" y1="397.1" x2="640.7" y2="395.1" stroke="#777777" stroke-width="0.85"/>
<line x1="640.7" y1="516.6" x2="640.7" y2="518.6" stroke="#777777" stroke-width="0.85"/>
<text x="640.7" y="391.95" text-anchor="middle" font-size="6.2" fill="#000" >1.0&#215;10<tspan dy="-1.9" font-size="3.8">7</tspan></text>
<text x="640.7" y="526.55" text-anchor="middle" font-size="6.2" fill="#000" >1.0&#215;10<tspan dy="-1.9" font-size="3.8">7</tspan></text>
<line x1="516.97" y1="397.1" x2="516.97" y2="396" stroke="#777777" stroke-width="0.85"/>
<line x1="516.97" y1="516.6" x2="516.97" y2="517.7" stroke="#777777" stroke-width="0.85"/>
<line x1="521.97" y1="397.1" x2="521.97" y2="396" stroke="#777777" stroke-width="0.85"/>
<line x1="521.97" y1="516.6" x2="521.97" y2="517.7" stroke="#777777" stroke-width="0.85"/>
<line x1="526.05" y1="397.1" x2="526.05" y2="396" stroke="#777777" stroke-width="0.85"/>
<line x1="526.05" y1="516.6" x2="526.05" y2="517.7" stroke="#777777" stroke-width="0.85"/>
<line x1="529.51" y1="397.1" x2="529.51" y2="396" stroke="#777777" stroke-width="0.85"/>
<line x1="529.51" y1="516.6" x2="529.51" y2="517.7" stroke="#777777" stroke-width="0.85"/>
<line x1="532.5" y1="397.1" x2="532.5" y2="396" stroke="#777777" stroke-width="0.85"/>
<line x1="532.5" y1="516.6" x2="532.5" y2="517.7" stroke="#777777" stroke-width="0.85"/>
<line x1="535.14" y1="397.1" x2="535.14" y2="396" stroke="#777777" stroke-width="0.85"/>
<line x1="535.14" y1="516.6" x2="535.14" y2="517.7" stroke="#777777" stroke-width="0.85"/>
<line x1="553.03" y1="397.1" x2="553.03" y2="396" stroke="#777777" stroke-width="0.85"/>
<line x1="553.03" y1="516.6" x2="553.03" y2="517.7" stroke="#777777" stroke-width="0.85"/>
<line x1="562.12" y1="397.1" x2="562.12" y2="396" stroke="#777777" stroke-width="0.85"/>
<line x1="562.12" y1="516.6" x2="562.12" y2="517.7" stroke="#777777" stroke-width="0.85"/>
<line x1="568.57" y1="397.1" x2="568.57" y2="396" stroke="#777777" stroke-width="0.85"/>
<line x1="568.57" y1="516.6" x2="568.57" y2="517.7" stroke="#777777" stroke-width="0.85"/>
<line x1="573.57" y1="397.1" x2="573.57" y2="396" stroke="#777777" stroke-width="0.85"/>
<line x1="573.57" y1="516.6" x2="573.57" y2="517.7" stroke="#777777" stroke-width="0.85"/>
<line x1="577.65" y1="397.1" x2="577.65" y2="396" stroke="#777777" stroke-width="0.85"/>
<line x1="577.65" y1="516.6" x2="577.65" y2="517.7" stroke="#777777" stroke-width="0.85"/>
<line x1="581.11" y1="397.1" x2="581.11" y2="396" stroke="#777777" stroke-width="0.85"/>
<line x1="581.11" y1="516.6" x2="581.11" y2="517.7" stroke="#777777" stroke-width="0.85"/>
<line x1="584.1" y1="397.1" x2="584.1" y2="396" stroke="#777777" stroke-width="0.85"/>
<line x1="584.1" y1="516.6" x2="584.1" y2="517.7" stroke="#777777" stroke-width="0.85"/>
<line x1="586.74" y1="397.1" x2="586.74" y2="396" stroke="#777777" stroke-width="0.85"/>
<line x1="586.74" y1="516.6" x2="586.74" y2="517.7" stroke="#777777" stroke-width="0.85"/>
<line x1="604.63" y1="397.1" x2="604.63" y2="396" stroke="#777777" stroke-width="0.85"/>
<line x1="604.63" y1="516.6" x2="604.63" y2="517.7" stroke="#777777" stroke-width="0.85"/>
<line x1="613.72" y1="397.1" x2="613.72" y2="396" stroke="#777777" stroke-width="0.85"/>
<line x1="613.72" y1="516.6" x2="613.72" y2="517.7" stroke="#777777" stroke-width="0.85"/>
<line x1="620.17" y1="397.1" x2="620.17" y2="396" stroke="#777777" stroke-width="0.85"/>
<line x1="620.17" y1="516.6" x2="620.17" y2="517.7" stroke="#777777" stroke-width="0.85"/>
<line x1="625.17" y1="397.1" x2="625.17" y2="396" stroke="#777777" stroke-width="0.85"/>
<line x1="625.17" y1="516.6" x2="625.17" y2="517.7" stroke="#777777" stroke-width="0.85"/>
<line x1="629.25" y1="397.1" x2="629.25" y2="396" stroke="#777777" stroke-width="0.85"/>
<line x1="629.25" y1="516.6" x2="629.25" y2="517.7" stroke="#777777" stroke-width="0.85"/>
<line x1="632.71" y1="397.1" x2="632.71" y2="396" stroke="#777777" stroke-width="0.85"/>
<line x1="632.71" y1="516.6" x2="632.71" y2="517.7" stroke="#777777" stroke-width="0.85"/>
<line x1="635.7" y1="397.1" x2="635.7" y2="396" stroke="#777777" stroke-width="0.85"/>
<line x1="635.7" y1="516.6" x2="635.7" y2="517.7" stroke="#777777" stroke-width="0.85"/>
<line x1="638.34" y1="397.1" x2="638.34" y2="396" stroke="#777777" stroke-width="0.85"/>
<line x1="638.34" y1="516.6" x2="638.34" y2="517.7" stroke="#777777" stroke-width="0.85"/>
<line x1="656.23" y1="397.1" x2="656.23" y2="396" stroke="#777777" stroke-width="0.85"/>
<line x1="656.23" y1="516.6" x2="656.23" y2="517.7" stroke="#777777" stroke-width="0.85"/>
<line x1="665.32" y1="397.1" x2="665.32" y2="396" stroke="#777777" stroke-width="0.85"/>
<line x1="665.32" y1="516.6" x2="665.32" y2="517.7" stroke="#777777" stroke-width="0.85"/>
<line x1="516.4" y1="489.3" x2="514.4" y2="489.3" stroke="#777777" stroke-width="0.85"/>
<line x1="665.7" y1="489.3" x2="667.7" y2="489.3" stroke="#777777" stroke-width="0.85"/>
<text x="513.1" y="491.35" text-anchor="end" font-size="6.2" fill="#000" >10</text>
<text x="669" y="491.35" text-anchor="start" font-size="6.2" fill="#000" >10</text>
<line x1="516.4" y1="397.1" x2="514.4" y2="397.1" stroke="#777777" stroke-width="0.85"/>
<line x1="665.7" y1="397.1" x2="667.7" y2="397.1" stroke="#777777" stroke-width="0.85"/>
<text x="513.1" y="399.15" text-anchor="end" font-size="6.2" fill="#000" >100</text>
<text x="669" y="399.15" text-anchor="start" font-size="6.2" fill="#000" >100</text>
<line x1="516.4" y1="509.75" x2="515.3" y2="509.75" stroke="#777777" stroke-width="0.85"/>
<line x1="665.7" y1="509.75" x2="666.8" y2="509.75" stroke="#777777" stroke-width="0.85"/>
<line x1="516.4" y1="503.58" x2="515.3" y2="503.58" stroke="#777777" stroke-width="0.85"/>
<line x1="665.7" y1="503.58" x2="666.8" y2="503.58" stroke="#777777" stroke-width="0.85"/>
<line x1="516.4" y1="498.24" x2="515.3" y2="498.24" stroke="#777777" stroke-width="0.85"/>
<line x1="665.7" y1="498.24" x2="666.8" y2="498.24" stroke="#777777" stroke-width="0.85"/>
<line x1="516.4" y1="493.52" x2="515.3" y2="493.52" stroke="#777777" stroke-width="0.85"/>
<line x1="665.7" y1="493.52" x2="666.8" y2="493.52" stroke="#777777" stroke-width="0.85"/>
<line x1="516.4" y1="461.55" x2="515.3" y2="461.55" stroke="#777777" stroke-width="0.85"/>
<line x1="665.7" y1="461.55" x2="666.8" y2="461.55" stroke="#777777" stroke-width="0.85"/>
<line x1="516.4" y1="445.31" x2="515.3" y2="445.31" stroke="#777777" stroke-width="0.85"/>
<line x1="665.7" y1="445.31" x2="666.8" y2="445.31" stroke="#777777" stroke-width="0.85"/>
<line x1="516.4" y1="433.79" x2="515.3" y2="433.79" stroke="#777777" stroke-width="0.85"/>
<line x1="665.7" y1="433.79" x2="666.8" y2="433.79" stroke="#777777" stroke-width="0.85"/>
<line x1="516.4" y1="424.85" x2="515.3" y2="424.85" stroke="#777777" stroke-width="0.85"/>
<line x1="665.7" y1="424.85" x2="666.8" y2="424.85" stroke="#777777" stroke-width="0.85"/>
<line x1="516.4" y1="417.55" x2="515.3" y2="417.55" stroke="#777777" stroke-width="0.85"/>
<line x1="665.7" y1="417.55" x2="666.8" y2="417.55" stroke="#777777" stroke-width="0.85"/>
<line x1="516.4" y1="411.38" x2="515.3" y2="411.38" stroke="#777777" stroke-width="0.85"/>
<line x1="665.7" y1="411.38" x2="666.8" y2="411.38" stroke="#777777" stroke-width="0.85"/>
<line x1="516.4" y1="406.04" x2="515.3" y2="406.04" stroke="#777777" stroke-width="0.85"/>
<line x1="665.7" y1="406.04" x2="666.8" y2="406.04" stroke="#777777" stroke-width="0.85"/>
<line x1="516.4" y1="401.32" x2="515.3" y2="401.32" stroke="#777777" stroke-width="0.85"/>
<line x1="665.7" y1="401.32" x2="666.8" y2="401.32" stroke="#777777" stroke-width="0.85"/>
<polyline points="546.5,465.5 548,466 549.2,463.8 550.5,464 551.8,462.9 553.5,460.3 555,460 556.2,457.6 557.5,458 558.8,456.8 560.5,455 562.3,455.9 564,451 565,447 566.5,449 568,443 569.5,441 570.5,446 571.5,451.5" fill="none" stroke="#222" stroke-width="0.55" stroke-linejoin="round" stroke-dasharray="1.2 0.4"/>
<line x1="522.3" y1="491.5" x2="524.1" y2="489.1" stroke="#222" stroke-width="0.55"/>
<line x1="524" y1="489.2" x2="525.8" y2="486.8" stroke="#222" stroke-width="0.55"/>
<line x1="528.4" y1="492.4" x2="530.2" y2="490" stroke="#222" stroke-width="0.55"/>
<line x1="529.7" y1="489.4" x2="531.5" y2="487" stroke="#222" stroke-width="0.55"/>
<line x1="531.4" y1="486.4" x2="533.2" y2="484" stroke="#222" stroke-width="0.55"/>
<line x1="532.8" y1="486" x2="534.6" y2="483.6" stroke="#222" stroke-width="0.55"/>
<line x1="534.9" y1="488.2" x2="536.7" y2="485.8" stroke="#222" stroke-width="0.55"/>
<line x1="536.4" y1="484.6" x2="538.2" y2="482.2" stroke="#222" stroke-width="0.55"/>
<line x1="538.7" y1="479.6" x2="540.5" y2="477.2" stroke="#222" stroke-width="0.55"/>
<line x1="540.5" y1="476.8" x2="542.3" y2="474.4" stroke="#222" stroke-width="0.55"/>
<line x1="542.3" y1="474.2" x2="544.1" y2="471.8" stroke="#222" stroke-width="0.55"/>
<line x1="544" y1="471.8" x2="545.8" y2="469.4" stroke="#222" stroke-width="0.55"/>
<line x1="545.1" y1="469.8" x2="546.9" y2="467.4" stroke="#222" stroke-width="0.55"/>
<line x1="536.4" y1="484.2" x2="536.4" y2="491.5" stroke="#444" stroke-width="0.4"/>
<line x1="538.5" y1="472.8" x2="538.5" y2="479.5" stroke="#444" stroke-width="0.4"/>
<line x1="531.9" y1="487.5" x2="531.9" y2="491.5" stroke="#444" stroke-width="0.4"/>
<line x1="526.1" y1="489.8" x2="526.1" y2="491.5" stroke="#444" stroke-width="0.4"/>
<polyline points="579.4,446.3 581,443 583.3,439.7 585,443 586.6,445 589,442 592.5,439.7 595,441.1 596.5,441.7 599.1,448.3 600.3,448.3 601.7,443.7 602.9,441.1 606.8,443.1 610.8,445.7 614.7,441.1 618.7,439.8 622.6,437.8 626.5,436.5 629.2,435.5 632.5,437.8 633.1,441.1 635.7,443.1" fill="none" stroke="#222" stroke-width="0.5" stroke-linejoin="round" stroke-dasharray="1.5 0.4"/>
<polyline points="644.6,439.8 646,441.5 647.5,441.8" fill="none" stroke="#444" stroke-width="0.4" stroke-linejoin="round" />
<polyline points="650,440.5 652,439.6 654,440.5 656.5,439.6" fill="none" stroke="#444" stroke-width="0.4" stroke-linejoin="round" />
<line x1="516.7" y1="470.5" x2="656.8" y2="435.2" stroke="#e41e1e" stroke-width="0.6"/>
<rect x="590.6" y="479.7" width="71.9" height="34.3" fill="#fff" stroke="#999" stroke-width="0.4"/>
<line x1="590.6" y1="483.51" x2="662.5" y2="483.51" stroke="#bbb" stroke-width="0.3"/>
<line x1="590.6" y1="487.32" x2="662.5" y2="487.32" stroke="#bbb" stroke-width="0.3"/>
<line x1="590.6" y1="491.13" x2="662.5" y2="491.13" stroke="#bbb" stroke-width="0.3"/>
<line x1="590.6" y1="494.94" x2="662.5" y2="494.94" stroke="#bbb" stroke-width="0.3"/>
<line x1="590.6" y1="498.76" x2="662.5" y2="498.76" stroke="#bbb" stroke-width="0.3"/>
<line x1="590.6" y1="502.57" x2="662.5" y2="502.57" stroke="#bbb" stroke-width="0.3"/>
<line x1="590.6" y1="506.38" x2="662.5" y2="506.38" stroke="#bbb" stroke-width="0.3"/>
<line x1="590.6" y1="510.19" x2="662.5" y2="510.19" stroke="#bbb" stroke-width="0.3"/>
<line x1="628.4" y1="479.7" x2="628.4" y2="514" stroke="#bbb" stroke-width="0.3"/>
<text transform="translate(591.5,482.67) scale(0.25) rotate(0.05)" font-size="13" fill="#1a1a1a" stroke="#1a1a1a" stroke-width="0.35" text-rendering="geometricPrecision">Equation</text>
<text transform="translate(645.45,482.67) scale(0.25) rotate(0.05)" font-size="13" text-anchor="middle" fill="#1a1a1a" stroke="#1a1a1a" stroke-width="0.35" text-rendering="geometricPrecision">y = a + b*x</text>
<text transform="translate(591.5,486.48) scale(0.25) rotate(0.05)" font-size="13" fill="#1a1a1a" stroke="#1a1a1a" stroke-width="0.35" text-rendering="geometricPrecision">Plot</text>
<text transform="translate(645.45,486.48) scale(0.25) rotate(0.05)" font-size="13" text-anchor="middle" fill="#1a1a1a" stroke="#1a1a1a" stroke-width="0.35" text-rendering="geometricPrecision">lg(R.M.S. Radius, nm)</text>
<text transform="translate(591.5,490.29) scale(0.25) rotate(0.05)" font-size="13" fill="#1a1a1a" stroke="#1a1a1a" stroke-width="0.35" text-rendering="geometricPrecision">Weight</text>
<text transform="translate(645.45,490.29) scale(0.25) rotate(0.05)" font-size="13" text-anchor="middle" fill="#1a1a1a" stroke="#1a1a1a" stroke-width="0.35" text-rendering="geometricPrecision">No Weighting</text>
<text transform="translate(591.5,494.11) scale(0.25) rotate(0.05)" font-size="13" fill="#1a1a1a" stroke="#1a1a1a" stroke-width="0.35" text-rendering="geometricPrecision">Intercept</text>
<text transform="translate(645.45,494.11) scale(0.25) rotate(0.05)" font-size="13" text-anchor="middle" fill="#1a1a1a" stroke="#1a1a1a" stroke-width="0.35" text-rendering="geometricPrecision">0.59017 &#177; 2.37926E-16</text>
<text transform="translate(591.5,497.92) scale(0.25) rotate(0.05)" font-size="13" fill="#1a1a1a" stroke="#1a1a1a" stroke-width="0.35" text-rendering="geometricPrecision">Slope</text>
<text transform="translate(645.45,497.92) scale(0.25) rotate(0.05)" font-size="13" text-anchor="middle" fill="#1a1a1a" stroke="#1a1a1a" stroke-width="0.35" text-rendering="geometricPrecision">0.15938 &#177; 4.17563E-17</text>
<text transform="translate(591.5,501.73) scale(0.25) rotate(0.05)" font-size="13" fill="#1a1a1a" stroke="#1a1a1a" stroke-width="0.35" text-rendering="geometricPrecision">Residual Sum of Squares</text>
<text transform="translate(645.45,501.73) scale(0.25) rotate(0.05)" font-size="13" text-anchor="middle" fill="#1a1a1a" stroke="#1a1a1a" stroke-width="0.35" text-rendering="geometricPrecision">1.16857E-28</text>
<text transform="translate(591.5,505.54) scale(0.25) rotate(0.05)" font-size="13" fill="#1a1a1a" stroke="#1a1a1a" stroke-width="0.35" text-rendering="geometricPrecision">Pearson's r</text>
<text transform="translate(645.45,505.54) scale(0.25) rotate(0.05)" font-size="13" text-anchor="middle" fill="#1a1a1a" stroke="#1a1a1a" stroke-width="0.35" text-rendering="geometricPrecision">1</text>
<text transform="translate(591.5,509.35) scale(0.25) rotate(0.05)" font-size="13" fill="#1a1a1a" stroke="#1a1a1a" stroke-width="0.35" text-rendering="geometricPrecision">R-Square (COD)</text>
<text transform="translate(645.45,509.35) scale(0.25) rotate(0.05)" font-size="13" text-anchor="middle" fill="#1a1a1a" stroke="#1a1a1a" stroke-width="0.35" text-rendering="geometricPrecision">1</text>
<text transform="translate(591.5,513.16) scale(0.25) rotate(0.05)" font-size="13" fill="#1a1a1a" stroke="#1a1a1a" stroke-width="0.35" text-rendering="geometricPrecision">Adj. R-Square</text>
<text transform="translate(645.45,513.16) scale(0.25) rotate(0.05)" font-size="13" text-anchor="middle" fill="#1a1a1a" stroke="#1a1a1a" stroke-width="0.35" text-rendering="geometricPrecision">1</text>
<text x="591.1" y="536.26" text-anchor="middle" font-size="6.2" font-weight="bold" fill="#000" >lg [Molar Mass (g/mol)]</text>
<text transform="translate(501.95,456.3) rotate(-90)" text-anchor="middle" font-size="6.2" font-weight="bold" fill="#000" >lg(R.M.S. Radius, nm)</text>
<text x="586.6" y="560.56" text-anchor="middle" font-size="12.6" fill="#000" >(I)</text>
</svg>
</body></html>
